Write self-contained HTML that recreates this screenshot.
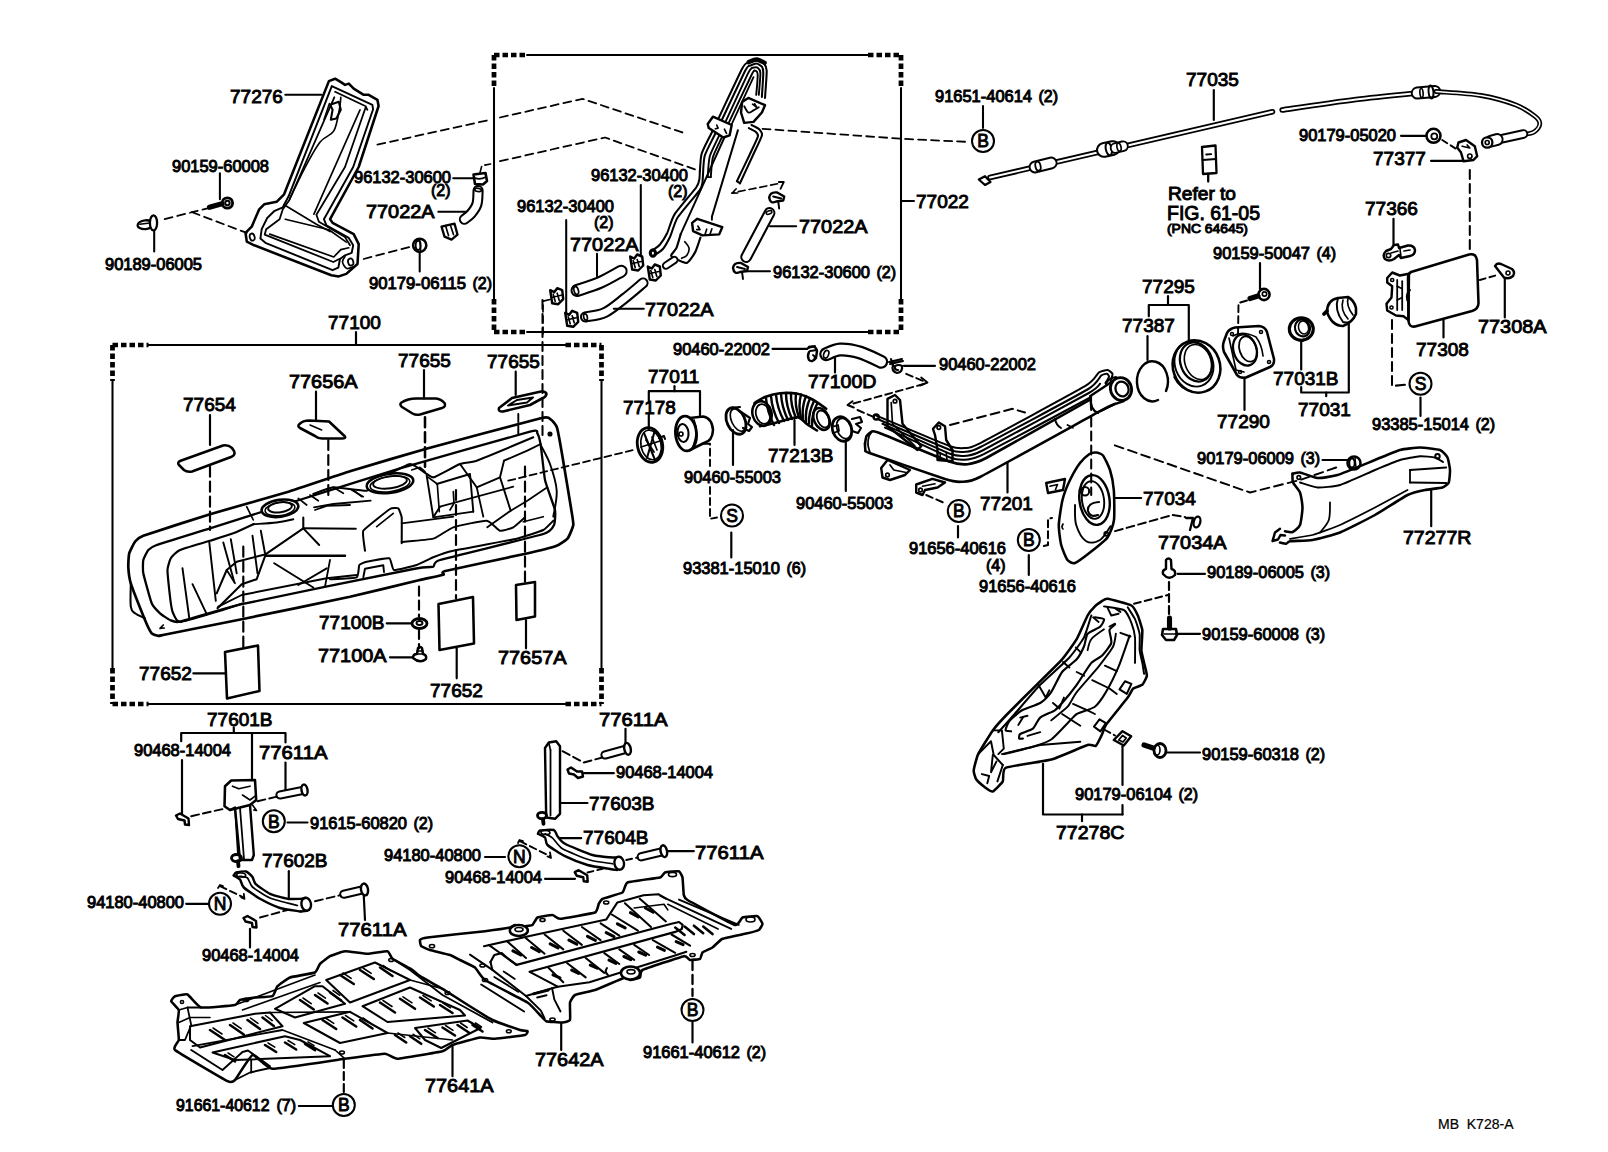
<!DOCTYPE html>
<html><head><meta charset="utf-8"><title>Fuel tank &amp; tube</title>
<style>
html,body{margin:0;padding:0;background:#fff;}
body{width:1608px;height:1152px;overflow:hidden;font-family:"Liberation Sans",sans-serif;}
svg{display:block}
svg text{font-family:"Liberation Sans",sans-serif;fill:#000;stroke:#000;}
svg path,svg circle,svg ellipse{stroke:#000;stroke-linecap:round;stroke-linejoin:round;}
svg path.tw{stroke:#fff;}
svg path.bx{stroke-linecap:butt;}
</style></head><body>
<svg width="1608" height="1152" viewBox="0 0 1608 1152">
<rect x="0" y="0" width="1608" height="1152" fill="#fff"/>
<path d="M328.9 81.1 L335.1 78.7 L341.3 82.4 L345 84.9 L348.8 83.6 L353.7 88.6 L363.7 94.8 L368.7 94.8 L377.4 99.8 L378.6 106 L358.7 167 L330.1 219.2 L332.6 222.9 L353.7 234.1 L358.7 244.1 L357.5 264 L346.3 273.9 L338.8 276.4 L331.3 275.2 L254.2 245.3 L246.8 241.6 L245.5 232.9 L251.7 226.7 L259.2 209.3 L264.2 204.3 L276.6 201.8 L284.1 194.3 Z" stroke-width="2.56" fill="none"/>
<path d="M331.8 86.1 L372.4 104.8 L373.1 109.3 L353.2 167 L323.9 219.2 L326.4 225.4 L348.8 237.9 L353.2 245.3 L351.7 252.8 L345 255.3 L340 259 L338.3 267.7 L332.6 270.2 L265.4 242.8 L260.4 238.6 L261.7 229.2 L267.2 218 L274.1 211.2 L282.8 207.3 L288.6 196.3 Z" stroke-width="1.92" fill="none"/>
<path d="M335.1 91.8 L365.7 106.3 L367.4 109.8" stroke-width="1.79" fill="none"/>
<path d="M334.3 97.3 L289.1 200.5 L282.8 209.3 L279.6 219.2 L266.2 229.2 L264.7 234.6 L333.3 262 L339.3 259" stroke-width="1.79" fill="none"/>
<path d="M365.7 107.3 L345 167 L316.4 214.7 L318.9 221.7 L345 237.1 L350 245.3" stroke-width="1.79" fill="none"/>
<path d="M360 109.8 L313.9 214.2" stroke-width="1.66" fill="none"/>
<path d="M285.3 219.2 L328.9 229.7 L346.3 242.1" stroke-width="1.66" fill="none"/>
<path d="M269.7 234.1 L333.8 257 L340.8 249.6 L348.8 247.8" stroke-width="1.66" fill="none"/>
<path d="M284.1 204.8 L316.4 224.2 L330.1 231.6" stroke-width="1.66" fill="none"/>
<path d="M340.8 97.3 C340.6 99.4 340.5 104.2 339.3 109.8 C338.1 115.4 337.0 125.5 333.8 130.9 C330.6 136.3 325.1 135.7 320.1 142.1 C315.1 148.5 309.1 160.0 304 169.5 C298.9 179.0 292.0 194.3 289.6 199.3" stroke-width="1.66" fill="none"/>
<path d="M330.1 104.8 L338.8 101.8 L340.8 109.8 L336.3 118.5 L330.8 119.7 L332.6 109.8 L330.1 104.8" stroke-width="2.05" fill="none"/>
<path d="M329.4 103.5 L323.9 119.7" stroke-width="1.54" fill="none"/>
<ellipse cx="252.2" cy="237.1" rx="2.4" ry="3.6" transform="rotate(-15 252.2 237.1)" stroke-width="1.79" fill="none"/>
<ellipse cx="350.7" cy="262.0" rx="2.6" ry="3.6" transform="rotate(-15 350.7 262.0)" stroke-width="1.79" fill="none"/>
<path d="M345 256.5 C344.6 257.4 342.2 260.0 342.5 262 C342.8 264.0 344.9 267.8 346.8 268.5 C348.8 269.2 353.0 266.8 354.2 266.5" stroke-width="1.66" fill="none"/>
<path d="M285.3 94.8 L321.4 94.8" stroke-width="2.05" fill="none"/>
<path d="M219.9 173.2 L219.9 199.3" stroke-width="2.05" fill="none"/>
<circle cx="227.4" cy="203.0" r="5.2" stroke-width="2.82" fill="none"/>
<circle cx="227.4" cy="203.0" r="2.2" stroke-width="2.05" fill="none"/>
<path d="M209.5 207.3 L221.9 203.8" stroke-width="5.12" fill="none"/>
<ellipse cx="145.5" cy="224.7" rx="8" ry="4.4" transform="rotate(-5 145.5 224.7)" stroke-width="2.30" fill="none"/>
<ellipse cx="153.5" cy="222.9" rx="3.6" ry="7.5" transform="rotate(0 153.5 222.9)" stroke-width="2.30" fill="#fff"/>
<path d="M139.8 224.2 L149.8 222.9" stroke-width="1.54" fill="none"/>
<path d="M154.2 231.6 L154.2 251.5" stroke-width="2.05" fill="none"/>
<path d="M164.7 219.2 L192 212.2 L209.5 207.8" stroke-width="1.79" fill="none" stroke-dasharray="8 5"/>
<path d="M192 212.2 L246.8 232.9" stroke-width="1.79" fill="none" stroke-dasharray="8 5"/>
<path d="M363.7 259 L410.9 246.6" stroke-width="1.79" fill="none" stroke-dasharray="8 5"/>
<circle cx="419.7" cy="245.3" r="6.6" stroke-width="2.56" fill="none"/>
<ellipse cx="418.2" cy="245.3" rx="2.5" ry="4.5" transform="rotate(0 418.2 245.3)" stroke-width="1.79" fill="none"/>
<path d="M419.7 240.3 L420.7 250.3" stroke-width="1.54" fill="none"/>
<path d="M419.7 252.8 L419.7 271.4" stroke-width="2.05" fill="none"/>
<path d="M453.2 178.2 L473.1 178.2" stroke-width="2.05" fill="none"/>
<path d="M473.5 174.5 L485.5 173 L487 181 L483 184.5 L475 184 Z" stroke-width="2.56" fill="none"/>
<path d="M475 178 Q480 180 486 177" stroke-width="1.66" fill="none"/>
<path d="M480.1 172.4 L481.8 165.7 L490.5 164" stroke-width="1.66" fill="none" stroke-dasharray="6 4"/>
<path class="tb" d="M478.1 190.6 C477.9 192.9 478.1 200.5 476.9 204.3 C475.7 208.2 473.2 211.2 471.1 213.7 C469.0 216.2 465.5 218.3 464.4 219.2" stroke-width="11.14" fill="none"/>
<path class="tw" d="M478.1 190.6 C477.9 192.9 478.1 200.5 476.9 204.3 C475.7 208.2 473.2 211.2 471.1 213.7 C469.0 216.2 465.5 218.3 464.4 219.2" stroke-width="7.04" fill="none"/>
<path d="M438.3 211.7 L465.7 211.7" stroke-width="2.05" fill="none"/>
<ellipse cx="478.1" cy="189.9" rx="3.4" ry="1.6" transform="rotate(10 478.1 189.9)" stroke-width="1.66" fill="none"/>
<path d="M441.5 226.6 L454.5 223.6 L457.5 234.6 L451.5 239.6 L444.5 236.6 Z" stroke-width="2.30" fill="none"/>
<path d="M445.5 225.6 L448.5 235.6 M450.5 225.6 L453.5 234.6" stroke-width="1.66" fill="none"/>
<path d="M377.4 144.6 L490.5 119.7" stroke-width="1.79" fill="none" stroke-dasharray="8 5"/>
<path d="M527 55 L868 55" stroke-width="2.05" fill="none"/>
<path d="M527 332 L868 332" stroke-width="2.05" fill="none"/>
<path d="M494 88 L494 299" stroke-width="2.05" fill="none"/>
<path d="M901 88 L901 299" stroke-width="2.05" fill="none"/>
<path class="bx" d="M494 55 L527 55" stroke-width="4.74" fill="none" stroke-dasharray="5.5 3"/>
<path class="bx" d="M868 55 L901 55" stroke-width="4.74" fill="none" stroke-dasharray="5.5 3"/>
<path class="bx" d="M494 332 L527 332" stroke-width="4.74" fill="none" stroke-dasharray="5.5 3"/>
<path class="bx" d="M868 332 L901 332" stroke-width="4.74" fill="none" stroke-dasharray="5.5 3"/>
<path class="bx" d="M494 55 L494 88" stroke-width="4.74" fill="none" stroke-dasharray="5.5 3"/>
<path class="bx" d="M494 299 L494 332" stroke-width="4.74" fill="none" stroke-dasharray="5.5 3"/>
<path class="bx" d="M901 55 L901 88" stroke-width="4.74" fill="none" stroke-dasharray="5.5 3"/>
<path class="bx" d="M901 299 L901 332" stroke-width="4.74" fill="none" stroke-dasharray="5.5 3"/>
<path d="M500 117.5 L582.5 98.8 L682.5 132.5" stroke-width="1.79" fill="none" stroke-dasharray="8 5"/>
<path d="M500 161.2 L605 137.5 L700 171.2" stroke-width="1.79" fill="none" stroke-dasharray="8 5"/>
<path d="M762.5 128.8 L902 138.8 L970 142" stroke-width="1.79" fill="none" stroke-dasharray="8 5"/>
<path d="M777.5 183.8 L733.8 192.5" stroke-width="1.66" fill="none" stroke-dasharray="7 4"/>
<path d="M732 193.2 L736.2 188.8" stroke-width="1.66" fill="none"/>
<path d="M732 193.2 L737.5 193" stroke-width="1.66" fill="none"/>
<path d="M778.8 182 L783.8 182 L780.5 188.8" stroke-width="1.79" fill="none"/>
<path d="M550 299.5 L543 301.2 L543 337.5" stroke-width="1.66" fill="none" stroke-dasharray="7 4"/>
<path d="M651.5 251 C652.3 250.4 658.2 246.6 659.8 244.8 C661.4 243.0 665.6 236.3 667.1 233.3 C668.6 230.3 671.5 219.2 674.4 214.6 C677.3 210.0 693.7 191.0 696.2 187.5 C698.7 184.0 698.9 182.5 699.4 179.2 C699.9 175.9 700.1 159.1 701.5 154.2 C702.9 149.3 708.8 138.7 712.9 130.2 C717.0 121.7 738.6 75.6 742.1 68.8 C745.6 62.0 746.8 63.4 748.3 62.5 C749.8 61.6 755.1 59.9 756.7 60 C758.3 60.1 763.0 62.4 764 63.5 C765.0 64.6 766.6 67.4 766.7 70.8 C766.8 74.2 765.2 95.2 765 97.9" stroke-width="2.05" fill="none"/>
<path d="M654.6 255.2 C655.4 254.6 661.3 250.9 662.9 249 C664.5 247.1 668.7 239.6 670.2 236.5 C671.7 233.4 674.6 222.3 677.5 217.7 C680.4 213.1 696.9 194.1 699.4 190.6 C701.9 187.1 702.0 185.7 702.5 182.3 C703.0 178.9 703.2 161.2 704.6 156.2 C706.0 151.2 711.9 140.8 716 132.3 C720.1 123.8 741.8 77.5 745.2 70.8 C748.6 64.1 749.2 66.3 750.4 65.6 C751.5 64.9 755.6 63.4 756.7 63.5 C757.9 63.6 761.2 65.8 761.9 66.7 C762.6 67.6 763.3 69.9 763.3 72.9 C763.3 75.9 762.0 94.5 761.9 96.9" stroke-width="2.05" fill="none"/>
<path d="M707.7 177.1 C707.9 175.0 708.5 160.6 709.8 156.2 C711.0 151.8 716.4 141.6 720.2 133.3 C724.1 125.0 745.0 79.5 748.3 72.9 C751.6 66.3 752.6 68.2 753.5 67.7 C754.4 67.2 757.0 67.2 757.7 67.7 C758.4 68.2 760.3 70.2 760.4 72.9 C760.5 75.6 759.0 92.6 758.8 94.8" stroke-width="1.92" fill="none"/>
<path d="M710.8 177.1 C711.0 175.1 711.6 161.6 712.9 157.3 C714.1 153.0 719.4 142.6 723.3 134.4 C727.2 126.2 748.3 81.4 751.5 75 C754.7 68.6 754.4 71.1 755 70.8 C755.6 70.5 756.8 71.4 757.1 71.9 C757.4 72.4 757.8 73.7 757.7 76 C757.6 78.3 756.4 92.9 756.2 94.8" stroke-width="1.92" fill="none"/>
<path d="M707.7 177.1 L710.8 177.1" stroke-width="1.92" fill="none"/>
<path d="M726.5 135.4 L753.5 77.1" stroke-width="1.79" fill="none"/>
<path d="M748.8 62.1 C750.1 61.6 754.1 59.3 756.7 59.4 C759.3 59.5 763.3 62.3 764.6 62.9" stroke-width="4.48" fill="none"/>
<ellipse cx="652.9" cy="253.1" rx="2.6" ry="3.2" transform="rotate(0 652.9 253.1)" stroke-width="3.07" fill="none"/>
<path d="M751.5 125 C752.3 125.4 758.2 128.2 759.2 129.2 C760.2 130.2 762.6 132.7 761.9 135.4 C761.2 138.1 754.7 151.4 752.5 156.2 C750.3 161.0 741.2 180.6 740 183.3" stroke-width="2.05" fill="none"/>
<path d="M748.8 128.1 C749.5 128.5 754.7 130.9 755.6 131.7 C756.5 132.5 758.5 134.2 757.9 136.5 C757.3 138.8 751.5 150.7 749.4 155.2 C747.3 159.7 738.1 178.6 736.9 181.2" stroke-width="2.05" fill="none"/>
<path d="M736.9 181.2 L740 183.3" stroke-width="2.05" fill="none"/>
<path d="M737.9 130.2 L711.9 216.7" stroke-width="2.05" fill="none"/>
<path d="M724.4 137.5 L680.6 234.4" stroke-width="1.92" fill="none"/>
<path d="M707.7 124 L712.9 116.7 L731.7 125 L729.6 135.4 L723.3 137.5 L708.8 128.1 Z" stroke-width="2.43" fill="#fff"/>
<path d="M716.7 125 L718.1 128.1 L715.4 128.8" stroke-width="1.66" fill="none"/>
<path d="M724.4 129.2 L726.5 133.3" stroke-width="1.66" fill="none"/>
<path d="M742.1 102.1 L748.3 97.9 L765 105.2 L761.9 112.5 L753.5 121.9 L744.2 122.9 L741 112.5 Z" stroke-width="2.43" fill="#fff"/>
<path d="M744.2 106.2 C744.9 107.2 746.8 111.8 748.3 112.5 C749.8 113.2 751.8 111.3 753.5 110.4 C755.2 109.5 757.9 107.8 758.8 107.3" stroke-width="1.79" fill="none"/>
<path d="M752.5 104.2 L756.7 107.3 L754.6 103.8" stroke-width="1.66" fill="none"/>
<path d="M692.1 222.9 L697.3 218.8 L722.3 227.1 L719.2 234.4 L702.5 235.4 L693.1 231.2 Z" stroke-width="2.43" fill="#fff"/>
<path d="M697.9 226 L700 229.6 L696.7 229.6" stroke-width="1.66" fill="none"/>
<path d="M706.7 229.2 L705 234.4" stroke-width="1.66" fill="none"/>
<path d="M711.9 228.8 L709.8 235" stroke-width="1.66" fill="none"/>
<path d="M711.9 216.7 L711.9 219.8" stroke-width="1.92" fill="none"/>
<path d="M680.6 234.4 C680.2 235.8 677.4 245.8 676.5 247.9 C675.6 250.0 671.4 254.2 671.2 255.2 C671.0 256.2 672.8 257.5 674.4 258.3 C676.0 259.1 684.8 263.5 686.9 262.9 C689.0 262.3 693.9 254.6 695.2 252.1 C696.6 249.6 699.9 239.0 700.4 237.5" stroke-width="2.18" fill="none"/>
<path d="M684.8 241.7 C685.5 242.7 688.6 245.7 689 247.9 C689.4 250.2 688.1 253.5 686.9 255.2 C685.7 256.9 682.6 257.8 681.7 258.3" stroke-width="1.66" fill="none"/>
<path class="tb" d="M666 265.6 L674.4 260" stroke-width="8.32" fill="none"/>
<path class="tw" d="M666 265.6 L674.4 260" stroke-width="4.48" fill="none"/>
<path class="tb" d="M577 290.5 C580.8 289.2 592.6 285.7 600 282.5 C607.4 279.3 617.7 273.1 621.2 271.2" stroke-width="13.06" fill="none"/>
<path class="tw" d="M577 290.5 C580.8 289.2 592.6 285.7 600 282.5 C607.4 279.3 617.7 273.1 621.2 271.2" stroke-width="8.96" fill="none"/>
<ellipse cx="576.2" cy="290.5" rx="2.2" ry="4" transform="rotate(-15 576.2 290.5)" stroke-width="1.66" fill="none"/>
<path class="tb" d="M585.5 317 C588.8 316.2 598.4 315.7 605 312.5 C611.6 309.3 618.7 302.9 625 298 C631.3 293.1 640.0 285.5 643 283" stroke-width="11.14" fill="none"/>
<path class="tw" d="M585.5 317 C588.8 316.2 598.4 315.7 605 312.5 C611.6 309.3 618.7 302.9 625 298 C631.3 293.1 640.0 285.5 643 283" stroke-width="7.04" fill="none"/>
<ellipse cx="585.5" cy="317.0" rx="1.8" ry="3.2" transform="rotate(-15 585.5 317.0)" stroke-width="1.66" fill="none"/>
<path class="tb" d="M769.5 213 L746.2 257" stroke-width="11.78" fill="none"/>
<path class="tw" d="M769.5 213 L746.2 257" stroke-width="7.68" fill="none"/>
<ellipse cx="769.0" cy="212.5" rx="3" ry="1.6" transform="rotate(-20 769.0 212.5)" stroke-width="1.54" fill="none"/>
<path d="M630.2 256.5 L634.2 258.5 L637.2 254.5 L642.2 256.5 L643.2 265.5 L638.2 270.5 L632.2 269.5 Z" stroke-width="2.43" fill="none"/>
<path d="M633.2 260.5 L635.2 267.5 M637.2 259.5 L639.2 266.5 M632.2 263.5 L641.2 261.5" stroke-width="1.66" fill="none"/>
<path d="M647.8 266.5 L651.8 268.5 L654.8 264.5 L659.8 266.5 L660.8 275.5 L655.8 280.5 L649.8 279.5 Z" stroke-width="2.43" fill="none"/>
<path d="M650.8 270.5 L652.8 277.5 M654.8 269.5 L656.8 276.5 M649.8 273.5 L658.8 271.5" stroke-width="1.66" fill="none"/>
<path d="M550.2 290.2 L554.2 292.2 L557.2 288.2 L562.2 290.2 L563.2 299.2 L558.2 304.2 L552.2 303.2 Z" stroke-width="2.43" fill="none"/>
<path d="M553.2 294.2 L555.2 301.2 M557.2 293.2 L559.2 300.2 M552.2 297.2 L561.2 295.2" stroke-width="1.66" fill="none"/>
<path d="M565.2 312.8 L569.2 314.8 L572.2 310.8 L577.2 312.8 L578.2 321.8 L573.2 326.8 L567.2 325.8 Z" stroke-width="2.43" fill="none"/>
<path d="M568.2 316.8 L570.2 323.8 M572.2 315.8 L574.2 322.8 M567.2 319.8 L576.2 317.8" stroke-width="1.66" fill="none"/>
<path d="M769.2 197.5 Q770.2 191.5 777.2 192.5 L784.2 196.5 L783.2 200.5 L776.2 201.5 Q770.2 204.5 769.2 197.5 Z" stroke-width="2.43" fill="none"/>
<path d="M778.2 201.5 L779.2 208.5 M773.2 196.5 L781.2 198.5" stroke-width="1.92" fill="none"/>
<path d="M733.0 268.0 Q734.0 262.0 741.0 263.0 L748.0 267.0 L747.0 271.0 L740.0 272.0 Q734.0 275.0 733.0 268.0 Z" stroke-width="2.43" fill="none"/>
<path d="M742.0 272.0 L743.0 279.0 M737.0 267.0 L745.0 269.0" stroke-width="1.92" fill="none"/>
<path d="M640.8 185 L640.8 256.2" stroke-width="2.05" fill="none"/>
<path d="M566.2 220 L566.2 312.5" stroke-width="2.05" fill="none"/>
<path d="M597 253.8 L597 276.2" stroke-width="2.05" fill="none"/>
<path d="M613.8 308.8 L643.8 308.8" stroke-width="2.05" fill="none"/>
<path d="M770 226.2 L796.2 226.2" stroke-width="2.05" fill="none"/>
<path d="M746.2 271.2 L770 271.2" stroke-width="2.05" fill="none"/>
<path d="M901 201 L914 201" stroke-width="2.05" fill="none"/>
<path d="M983 106 L983 128" stroke-width="2.05" fill="none"/>
<circle cx="983" cy="141" r="11" stroke-width="2.05" fill="#fff"/>
<text x="983" y="147.3" font-size="17.5" text-anchor="middle" stroke-width="0.9">B</text>
<path class="tb" d="M990 177.5 L1272.5 111.8" stroke-width="5.63" fill="none"/>
<path class="tw" d="M990 177.5 L1272.5 111.8" stroke-width="2.05" fill="none"/>
<path d="M978.8 179.5 L985 176.2 L990.5 182 L985 185 Z" stroke-width="2.30" fill="#fff"/>
<path class="tb" d="M1035 167 L1051.2 163" stroke-width="12.80" fill="none"/>
<path class="tw" d="M1035 167 L1051.2 163" stroke-width="8.96" fill="none"/>
<ellipse cx="1038.0" cy="166.2" rx="2.6" ry="4.6" transform="rotate(-12 1038.0 166.2)" stroke-width="1.79" fill="none"/>
<path class="tb" d="M1103.8 150 L1113 148" stroke-width="15.62" fill="none"/>
<path class="tw" d="M1103.8 150 L1113 148" stroke-width="11.52" fill="none"/>
<ellipse cx="1108.8" cy="149.0" rx="3" ry="6.5" transform="rotate(-12 1108.8 149.0)" stroke-width="2.05" fill="none"/>
<path class="tb" d="M1115.5 148 L1123 146.2" stroke-width="11.52" fill="none"/>
<path class="tw" d="M1115.5 148 L1123 146.2" stroke-width="7.68" fill="none"/>
<ellipse cx="1119.0" cy="147.2" rx="2" ry="4" transform="rotate(-12 1119.0 147.2)" stroke-width="1.66" fill="none"/>
<path d="M1213.8 90 L1213.8 120" stroke-width="2.18" fill="none"/>
<path d="M1202 147 L1215.5 145.5 L1216.5 173 L1203 174 Z" stroke-width="2.30" fill="none"/>
<path d="M1202.5 160 L1216 159" stroke-width="1.79" fill="none"/>
<path d="M1206.2 154.5 L1211.2 154.2" stroke-width="1.79" fill="none"/>
<path d="M1208.2 174 L1208.2 181.5" stroke-width="2.30" fill="none"/>
<path class="tb" d="M1282.2 110 C1294.5 108.2 1333.3 102.3 1356 99.5 C1378.7 96.7 1408.1 94.1 1418.5 93" stroke-width="5.63" fill="none"/>
<path class="tw" d="M1282.2 110 C1294.5 108.2 1333.3 102.3 1356 99.5 C1378.7 96.7 1408.1 94.1 1418.5 93" stroke-width="2.05" fill="none"/>
<path class="tb" d="M1417.2 93 L1434.8 91.5" stroke-width="12.80" fill="none"/>
<path class="tw" d="M1417.2 93 L1434.8 91.5" stroke-width="8.96" fill="none"/>
<ellipse cx="1431.0" cy="92.0" rx="2.4" ry="6.5" transform="rotate(-5 1431.0 92.0)" stroke-width="1.92" fill="none"/>
<ellipse cx="1421.5" cy="93.0" rx="1.6" ry="4.5" transform="rotate(-5 1421.5 93.0)" stroke-width="1.66" fill="none"/>
<path class="tb" d="M1436 91.5 C1443.5 92.2 1467.7 93.2 1481 95.5 C1494.3 97.8 1507.0 101.5 1516 105 C1525.0 108.5 1530.8 113.1 1534.8 116.2 C1538.8 119.3 1539.9 121.2 1539.8 123.8 C1539.7 126.4 1536.8 130.2 1534 132 C1531.2 133.8 1524.8 134.1 1523 134.5" stroke-width="4.86" fill="none"/>
<path class="tw" d="M1436 91.5 C1443.5 92.2 1467.7 93.2 1481 95.5 C1494.3 97.8 1507.0 101.5 1516 105 C1525.0 108.5 1530.8 113.1 1534.8 116.2 C1538.8 119.3 1539.9 121.2 1539.8 123.8 C1539.7 126.4 1536.8 130.2 1534 132 C1531.2 133.8 1524.8 134.1 1523 134.5" stroke-width="1.54" fill="none"/>
<path class="tb" d="M1523.5 134 L1498.5 139.5" stroke-width="9.60" fill="none"/>
<path class="tw" d="M1523.5 134 L1498.5 139.5" stroke-width="5.76" fill="none"/>
<path class="tb" d="M1497.2 139.5 L1491 141.2" stroke-width="12.80" fill="none"/>
<path class="tw" d="M1497.2 139.5 L1491 141.2" stroke-width="8.96" fill="none"/>
<circle cx="1487.2" cy="142.5" r="5.2" stroke-width="2.30" fill="#fff"/>
<circle cx="1487.2" cy="142.5" r="2" stroke-width="1.66" fill="none"/>
<circle cx="1433.5" cy="135.8" r="7" stroke-width="2.56" fill="none"/>
<circle cx="1434.3" cy="136.3" r="3" stroke-width="1.79" fill="none"/>
<path d="M1401 135.8 L1426 135.8" stroke-width="2.18" fill="none"/>
<path d="M1442.2 140 L1456 148.8" stroke-width="1.92" fill="none" stroke-dasharray="6 4"/>
<path d="M1458.5 142.5 L1466 140 L1474.8 146.2 L1477.2 156.2 L1473.5 160 L1463.5 161.2 L1461 152.5 L1457.2 147.5 Z" stroke-width="2.43" fill="none"/>
<path d="M1462.2 146.2 L1469.8 148 L1467.2 145" stroke-width="1.66" fill="none"/>
<circle cx="1469.8" cy="156.2" r="2.2" stroke-width="1.66" fill="none"/>
<path d="M1431 160.8 L1463.5 160.8" stroke-width="2.18" fill="none"/>
<path d="M1469.8 170 L1469.8 253.8" stroke-width="2.05" fill="none" stroke-dasharray="9 5"/>
<path d="M1393.5 218.8 L1393.5 245" stroke-width="2.18" fill="none"/>
<path d="M1386 251 L1391 249 L1394 245 L1398 244.5 L1399 248 L1408 245.5 Q1414 245 1415 250 Q1415 255 1410 256 L1401 258 L1399 255 L1394 259 Q1389 262 1385 259 Q1382 255 1386 251 Z" stroke-width="2.43" fill="none"/>
<circle cx="1388.5" cy="255.5" r="2.2" stroke-width="1.66" fill="none"/>
<path d="M1391 253 L1398 251" stroke-width="1.66" fill="none"/>
<path d="M1400 249 L1401 257" stroke-width="1.66" fill="none"/>
<path d="M1404 251 L1410 250" stroke-width="1.66" fill="none"/>
<path d="M1411 272 L1469 254.5 Q1476 253 1477 260 L1478.5 303 Q1478.5 309 1472 311 L1415 326.5 Q1409 327.5 1408.5 321 L1408 278 Q1408 273.5 1411 272 Z" stroke-width="2.56" fill="none"/>
<path d="M1387.2 278 L1392.2 272.5 L1399.8 275.5 L1409 273.8 L1408.5 320 L1403.5 316.2 L1396 315.5 L1387.2 310.5 L1386.5 303.8 L1391.5 297.5 L1392.2 286.2 L1387.2 282.5 Z" stroke-width="2.43" fill="none"/>
<path d="M1397.2 280 L1397.2 310" stroke-width="1.79" fill="none"/>
<path d="M1402.2 281.2 L1402.2 310" stroke-width="1.79" fill="none"/>
<path d="M1397.2 286.2 L1402.2 288.8" stroke-width="1.66" fill="none"/>
<path d="M1397.2 300 L1402.2 297.5" stroke-width="1.66" fill="none"/>
<circle cx="1392.2" cy="280.0" r="1.6" stroke-width="1.54" fill="none"/>
<circle cx="1391.5" cy="307.5" r="1.6" stroke-width="1.54" fill="none"/>
<path d="M1410 290 Q1404 296 1409 304" stroke-width="1.92" fill="none"/>
<path d="M1443.5 320 L1443.5 337.5" stroke-width="2.18" fill="none"/>
<path d="M1495 266 Q1497 262.5 1501 264 L1512 269 Q1515.5 272 1513 276 Q1509 279.5 1504 277.5 Z" stroke-width="2.43" fill="none"/>
<circle cx="1508" cy="273" r="2" stroke-width="1.54" fill="none"/>
<path d="M1504.8 278.8 L1504.8 317.5" stroke-width="2.18" fill="none"/>
<path d="M1479.8 280 L1497.2 275" stroke-width="1.92" fill="none" stroke-dasharray="6 4"/>
<path d="M1392 320 L1392 386 L1408 384.5" stroke-width="2.05" fill="none" stroke-dasharray="9 5"/>
<circle cx="1420.5" cy="383.8" r="11" stroke-width="2.05" fill="#fff"/>
<text x="1420.5" y="390.1" font-size="17.5" text-anchor="middle" stroke-width="0.9">S</text>
<path d="M1420.5 397.5 L1420.5 416" stroke-width="2.18" fill="none"/>
<path d="M1168 296.2 L1168 304.5" stroke-width="2.18" fill="none"/>
<path d="M1148.8 316.2 L1148.8 305 L1188.8 305 L1188.8 340" stroke-width="2.18" fill="none"/>
<path d="M1147.5 336.2 L1147.5 360" stroke-width="2.18" fill="none"/>
<path d="M1158 400 A15.5 20 0 1 1 1166 391" stroke-width="2.43" fill="none"/>
<ellipse cx="1196.5" cy="366.5" rx="23.5" ry="26.5" transform="rotate(-20 1196.5 366.5)" stroke-width="2.56" fill="none"/>
<ellipse cx="1194" cy="364" rx="19" ry="23" transform="rotate(-20 1194 364)" stroke-width="1.92" fill="none"/>
<ellipse cx="1196" cy="362" rx="15.5" ry="20" transform="rotate(-20 1196 362)" stroke-width="2.30" fill="none"/>
<ellipse cx="1198" cy="362" rx="13" ry="18" transform="rotate(-20 1198 362)" stroke-width="1.66" fill="none"/>
<path d="M1174 377 Q1180 390 1194 392" stroke-width="1.66" fill="none"/>
<path d="M1227 333 Q1229 329 1235 327.5 L1259 326 Q1265 326.5 1267 332 L1274 359 Q1274.5 365 1270 367 L1246 377.5 Q1240 378.5 1237 375 L1224 352 Q1222 346 1224 341 Z" stroke-width="2.56" fill="none"/>
<ellipse cx="1245" cy="350" rx="11.5" ry="16" transform="rotate(-18 1245 350)" stroke-width="2.30" fill="none"/>
<ellipse cx="1248" cy="349" rx="8.5" ry="13" transform="rotate(-18 1248 349)" stroke-width="1.79" fill="none"/>
<path d="M1233 336 Q1242 330 1256 337 Q1262 345 1263 356" stroke-width="1.66" fill="none"/>
<path d="M1229 338 L1236 370 L1244 372" stroke-width="1.66" fill="none"/>
<circle cx="1232" cy="334" r="1.5" stroke-width="1.54" fill="none"/>
<circle cx="1261" cy="332" r="1.5" stroke-width="1.54" fill="none"/>
<circle cx="1269" cy="362" r="1.5" stroke-width="1.54" fill="none"/>
<circle cx="1240" cy="372" r="1.5" stroke-width="1.54" fill="none"/>
<path d="M1244.5 377.5 L1244.5 410" stroke-width="2.18" fill="none"/>
<path d="M1260 263 L1260 289" stroke-width="2.18" fill="none"/>
<circle cx="1264" cy="294.5" r="5.6" stroke-width="2.56" fill="none"/>
<circle cx="1264.5" cy="294" r="2.2" stroke-width="1.66" fill="none"/>
<path d="M1250 298.5 L1258 296" stroke-width="5.12" fill="none"/>
<path d="M1247 300.5 L1238.5 303 L1238 336" stroke-width="1.92" fill="none" stroke-dasharray="7 4"/>
<ellipse cx="1301.3" cy="329" rx="12" ry="11.3" transform="rotate(0 1301.3 329)" stroke-width="3.07" fill="none"/>
<ellipse cx="1302.5" cy="328" rx="7.5" ry="8.5" transform="rotate(-15 1302.5 328)" stroke-width="2.18" fill="none"/>
<ellipse cx="1303.5" cy="327.5" rx="5" ry="6.5" transform="rotate(-15 1303.5 327.5)" stroke-width="1.54" fill="none"/>
<path d="M1290 332 Q1294 341 1303 341" stroke-width="1.79" fill="none"/>
<path d="M1301.2 341.2 L1301.2 369.5" stroke-width="2.18" fill="none"/>
<path d="M1301.2 387 L1301.2 392.5 L1348.8 392.5 L1348.8 322.5" stroke-width="2.18" fill="none"/>
<path d="M1326.2 392.5 L1326.2 396.2" stroke-width="2.18" fill="none"/>
<path d="M1327 312 Q1327 300 1338 298 L1348 297 Q1354 300 1356 308 L1356 314 Q1352 323 1343 326 Q1332 326 1327 312 Z" stroke-width="2.56" fill="none"/>
<path d="M1338 298 Q1334 310 1343 322 Q1349 324 1354 318" stroke-width="1.92" fill="none"/>
<path d="M1343 300 Q1340 310 1348 319" stroke-width="1.66" fill="none"/>
<path d="M1348 298 Q1346 306 1353 315" stroke-width="1.66" fill="none"/>
<path d="M1324 314 L1327 311" stroke-width="3.84" fill="none"/>
<path d="M772.5 348.8 L807.5 348.8" stroke-width="2.18" fill="none"/>
<path d="M809 347 Q816 345 817 351 L816 358 Q812 363 809 360 Q807 356 809 352" stroke-width="2.43" fill="none"/>
<path d="M810 351 L817 350 M808 348 L815 346 M813 355 Q816 357 814 360" stroke-width="1.92" fill="none"/>
<path class="tb" d="M826.2 354.2 C828.5 353.4 834.4 349.8 840 349.5 C845.6 349.2 853.1 350.4 860 352.5 C866.9 354.6 877.7 360.2 881.2 361.8" stroke-width="13.95" fill="none"/>
<path class="tw" d="M826.2 354.2 C828.5 353.4 834.4 349.8 840 349.5 C845.6 349.2 853.1 350.4 860 352.5 C866.9 354.6 877.7 360.2 881.2 361.8" stroke-width="9.60" fill="none"/>
<ellipse cx="826.2" cy="354.2" rx="2.4" ry="4" transform="rotate(20 826.2 354.2)" stroke-width="1.66" fill="none"/>
<path d="M835 358 L835 372.5" stroke-width="2.18" fill="none"/>
<path d="M889 362 L902 359 M890 364 L903 361 M891 359 L893 366" stroke-width="2.05" fill="none"/>
<path d="M893 365 Q891 371 897 373 Q903 372 902 366 Q899 364 895 366 Q894 370 898 370" stroke-width="2.18" fill="none"/>
<path d="M903.8 365.8 L935 365.8" stroke-width="2.18" fill="none"/>
<path d="M906.2 373.8 L925 381.8" stroke-width="1.92" fill="none" stroke-dasharray="7 4"/>
<path d="M921.2 377.5 L927.5 382.5 L920 385.5" stroke-width="1.92" fill="none"/>
<path d="M923.8 384 L850 404.5" stroke-width="1.92" fill="none" stroke-dasharray="7 4"/>
<path d="M852.5 401.2 L847.5 405 L853.8 407.5" stroke-width="1.92" fill="none"/>
<path d="M857.5 410 L875 417.5" stroke-width="1.92" fill="none" stroke-dasharray="7 4"/>
<path d="M674.5 386.2 L674.5 391.2" stroke-width="2.18" fill="none"/>
<path d="M648.8 400.5 L648.8 391.2 L700 391.2 L700 418.8" stroke-width="2.18" fill="none"/>
<path d="M648.8 413.8 L648.8 430" stroke-width="2.18" fill="none"/>
<ellipse cx="650" cy="445" rx="12.5" ry="17.5" transform="rotate(-12 650 445)" stroke-width="2.82" fill="none"/>
<ellipse cx="651" cy="445" rx="10" ry="15" transform="rotate(-12 651 445)" stroke-width="1.54" fill="none"/>
<path d="M644 433 L655 460" stroke-width="2.05" fill="none"/>
<path d="M655 430 L647 458" stroke-width="2.05" fill="none"/>
<path d="M641 447 L660 441" stroke-width="1.79" fill="none"/>
<path d="M646 440 L654 452" stroke-width="1.79" fill="none"/>
<path d="M652 437 L657 450" stroke-width="1.66" fill="none"/>
<path d="M659 438 L664 436 L665 439" stroke-width="2.05" fill="none"/>
<path d="M690 418 L703 416.5 Q712 418 713 430 Q712.5 441 704 443 L692 449 Z" stroke-width="2.56" fill="#fff"/>
<ellipse cx="686" cy="433.5" rx="10.5" ry="17.5" transform="rotate(-5 686 433.5)" stroke-width="2.82" fill="#fff"/>
<ellipse cx="683" cy="433" rx="5.5" ry="9" transform="rotate(-5 683 433)" stroke-width="2.05" fill="none"/>
<circle cx="681" cy="434" r="2" stroke-width="1.66" fill="none"/>
<path d="M694 420 Q699 432 693 447" stroke-width="1.79" fill="none"/>
<path d="M704 443.8 L710 443.8 L710 466" stroke-width="1.92" fill="none" stroke-dasharray="7 4"/>
<path d="M710 487 L710 518.8 L717 517.5" stroke-width="1.92" fill="none" stroke-dasharray="7 4"/>
<circle cx="732" cy="515.5" r="11" stroke-width="2.05" fill="#fff"/>
<text x="732" y="521.8" font-size="17.5" text-anchor="middle" stroke-width="0.9">S</text>
<path d="M731.3 532.5 L731.3 557.5" stroke-width="2.18" fill="none"/>
<ellipse cx="736" cy="421" rx="9" ry="14" transform="rotate(-25 736 421)" stroke-width="2.82" fill="none"/>
<ellipse cx="738" cy="420" rx="6.5" ry="12" transform="rotate(-25 738 420)" stroke-width="1.66" fill="none"/>
<path d="M741 412 L750 418 L748 424 L752 427 L749 431 L743 428" stroke-width="2.18" fill="none"/>
<path d="M733 430 L733 465" stroke-width="2.18" fill="none"/>
<path d="M727 412 L730 408 L740 407" stroke-width="2.05" fill="none"/>
<path d="M754.5 403 C756.2 402.0 760.8 398.6 765 397 C769.2 395.4 774.6 393.7 780 393.2 C785.4 392.7 792.1 392.8 797.5 393.8 C802.9 394.9 807.7 397.0 812.5 399.5 C817.3 402.0 823.9 407.2 826.2 408.8" stroke-width="2.56" fill="none"/>
<path d="M760 426.2 C762.5 425.7 770.0 424.2 775 423 C780.0 421.8 786.0 419.7 790 418.8 C794.0 417.9 795.9 416.6 798.8 417.5 C801.7 418.4 804.5 422.3 807.5 424.5 C810.5 426.7 815.4 429.5 817 430.5" stroke-width="2.56" fill="none"/>
<ellipse cx="762" cy="413.5" rx="9.5" ry="12.5" transform="rotate(-15 762 413.5)" stroke-width="2.56" fill="#fff"/>
<ellipse cx="763" cy="414" rx="7" ry="10" transform="rotate(-15 763 414)" stroke-width="1.79" fill="none"/>
<ellipse cx="821.5" cy="419" rx="7.5" ry="11.5" transform="rotate(-25 821.5 419)" stroke-width="2.56" fill="#fff"/>
<ellipse cx="823" cy="419" rx="5.5" ry="9" transform="rotate(-25 823 419)" stroke-width="1.79" fill="none"/>
<path d="M766 398 Q767.0 411.5 774 425" stroke-width="2.43" fill="none"/>
<path d="M771 396 Q772.0 409.5 779 423" stroke-width="2.43" fill="none"/>
<path d="M776 394.5 Q777.0 407.75 784 421" stroke-width="2.43" fill="none"/>
<path d="M781 393.5 Q781.5 406.75 788 420" stroke-width="2.43" fill="none"/>
<path d="M786 393 Q786.0 406.0 792 419" stroke-width="2.43" fill="none"/>
<path d="M791 393 Q790.5 405.5 796 418" stroke-width="2.43" fill="none"/>
<path d="M796 393.5 Q794.5 405.5 799 417.5" stroke-width="2.43" fill="none"/>
<path d="M801 394.5 Q798.0 406.25 801 418" stroke-width="2.43" fill="none"/>
<path d="M806 396 Q801.5 407.5 803 419" stroke-width="2.43" fill="none"/>
<path d="M810 398.5 Q805.0 409.75 806 421" stroke-width="2.43" fill="none"/>
<path d="M814 401 Q808.5 412.25 809 423.5" stroke-width="2.43" fill="none"/>
<path d="M817 404 Q811.5 415.0 812 426" stroke-width="2.43" fill="none"/>
<path d="M794.5 420 L794.5 445" stroke-width="2.18" fill="none"/>
<ellipse cx="842" cy="429" rx="9.5" ry="12.5" transform="rotate(-20 842 429)" stroke-width="2.82" fill="none"/>
<ellipse cx="844" cy="428.5" rx="7" ry="10.5" transform="rotate(-20 844 428.5)" stroke-width="1.66" fill="none"/>
<path d="M832 427 L838 425 L839 431 L833 433 Z" stroke-width="1.79" fill="none"/>
<path d="M852 419 L860 417 L862 422 L856 424 L861 428 L858 433 L852 431" stroke-width="2.18" fill="none"/>
<path d="M845.8 440 L845.8 491" stroke-width="2.18" fill="none"/>
<path d="M875 415 C881.2 417.6 942.5 443.4 950 446.2 C957.5 448.9 962.6 448.2 965 448 C967.4 447.8 968.8 448.9 978.8 443.8 C988.8 438.7 1075.0 392.1 1085 386.2 C1095.0 380.3 1096.9 373.9 1098.8 372.5 C1100.7 371.1 1106.4 369.9 1107.5 370 C1108.6 370.1 1112.2 372.9 1112.5 373.8 C1112.8 374.7 1110.7 380.6 1110.5 381.2" stroke-width="2.05" fill="none"/>
<path d="M877 418.8 C883.1 421.4 942.6 447.2 950 450 C957.4 452.8 963.0 452.1 965.5 451.8 C968.0 451.6 970.3 452.2 980.5 447 C990.7 441.8 1077.4 395.5 1087.5 389.5 C1097.6 383.5 1099.6 376.8 1101.2 375.5 C1102.8 374.2 1106.3 373.7 1107 373.8 C1107.7 373.9 1109.1 376.0 1109 376.8 C1108.9 377.6 1105.8 382.5 1105.5 383" stroke-width="2.05" fill="none"/>
<path d="M882.5 423.8 C888.1 426.3 943.0 451.1 950 453.8 C957.0 456.5 963.5 456.1 966.2 455.8 C968.9 455.5 972.3 455.7 982.5 450.5 C992.7 445.3 1079.0 398.6 1088.8 393 C1098.6 387.4 1099.1 384.6 1100 383.8" stroke-width="2.05" fill="none"/>
<path d="M885 427.5 C890.4 430.0 943.2 454.8 950 457.5 C956.8 460.2 964.2 459.8 967 459.5 C969.8 459.2 973.4 459.4 983.8 454.2 C994.1 449.0 1082.2 401.8 1091.2 397" stroke-width="2.05" fill="none"/>
<circle cx="876.2" cy="417.0" r="2.6" stroke-width="2.30" fill="none"/>
<path d="M865 443.8 C865.1 443.2 865.9 437.2 866.5 436.2 C867.1 435.2 870.9 431.8 872 431.5 C873.1 431.2 873.0 430.5 879.5 433 C886.0 435.5 942.7 459.2 950 461.8 C957.3 464.4 964.5 464.5 967.5 464.2 C970.5 463.9 976.0 463.4 986.2 458 C996.5 452.6 1081.8 404.4 1090.5 399.5" stroke-width="2.56" fill="none"/>
<path d="M865 443.8 C865.0 444.3 865.1 449.2 865.5 450 C865.9 450.8 862.9 450.6 869.5 453 C876.1 455.4 937.4 476.6 945 479 C952.6 481.4 958.3 482.0 961.2 481.8 C964.1 481.6 968.4 482.9 980 477 C991.6 471.1 1088.8 417.3 1100 411.2 C1111.2 405.1 1113.8 404.4 1115 403.8" stroke-width="2.56" fill="none"/>
<path d="M872 431.5 C871.5 432.3 869.7 433.9 869 436.2 C868.3 438.4 867.8 442.3 868 445 C868.2 447.7 869.7 451.2 870 452.5" stroke-width="1.79" fill="none"/>
<path d="M1091 398 Q1090 410 1098 413" stroke-width="2.18" fill="none"/>
<path d="M1090.5 399.5 L1091.2 410" stroke-width="2.05" fill="none"/>
<path d="M1090 396.2 L1110 383" stroke-width="2.30" fill="none"/>
<ellipse cx="1121" cy="389" rx="10.5" ry="11.5" transform="rotate(-20 1121 389)" stroke-width="2.82" fill="none"/>
<ellipse cx="1122" cy="389" rx="6.5" ry="7.5" transform="rotate(-20 1122 389)" stroke-width="2.30" fill="none"/>
<path d="M1106 384 Q1108 378 1116 377" stroke-width="1.92" fill="none"/>
<path d="M1100 411.2 L1115.5 403.8 L1123.8 401.2" stroke-width="2.30" fill="none"/>
<path d="M1055 419 Q1056 425 1061 428" stroke-width="1.92" fill="none"/>
<path d="M887.5 398.8 L895 395 L900 400 L902.5 423.8 L921.2 446.2 L917.5 450 L887.5 426.2 Z" stroke-width="2.43" fill="none"/>
<circle cx="895.0" cy="401.2" r="1.8" stroke-width="1.66" fill="none"/>
<path d="M891.2 402.5 L892.5 423.8 L915 446.2" stroke-width="1.66" fill="none"/>
<path d="M933 428.8 L938.8 422.5 L945 426.2 L946.2 440 L952.5 450 L952.5 461.2 L937.5 460 L937.5 450 L935 435 Z" stroke-width="2.43" fill="none"/>
<circle cx="938.8" cy="427.5" r="1.8" stroke-width="1.66" fill="none"/>
<path d="M940 452.5 L940.5 459.5" stroke-width="1.66" fill="none"/>
<path d="M946.2 452.5 L947 460" stroke-width="1.66" fill="none"/>
<path d="M881.2 468 L887.5 460 L910 470 L905 475 L890 480 L882.5 477.5 Z" stroke-width="2.43" fill="none"/>
<circle cx="887.5" cy="475.0" r="1.8" stroke-width="1.66" fill="none"/>
<path d="M890 465 L893.8 470 L906.2 472.5" stroke-width="1.66" fill="none"/>
<path d="M916.2 484.5 L932.5 478.8 L945 482.5 L937.5 487.5 L925 490 L922.5 495 L916.2 492.5 Z" stroke-width="2.43" fill="none"/>
<circle cx="920.5" cy="490.0" r="1.8" stroke-width="1.66" fill="none"/>
<path d="M922.5 486.2 L935 483.8" stroke-width="1.66" fill="none"/>
<path d="M950 425 L1012.5 408.8 L1025 412.5" stroke-width="1.92" fill="none" stroke-dasharray="9 5"/>
<path d="M926.2 495 L946.2 503.8" stroke-width="1.92" fill="none" stroke-dasharray="7 4"/>
<path d="M1067.5 425 L1076.2 429.5" stroke-width="1.79" fill="none" stroke-dasharray="6 4"/>
<path d="M1091.2 417.5 L1091.2 495" stroke-width="2.05" fill="none" stroke-dasharray="9 5"/>
<path d="M1007.5 462.5 L1007.5 492.5" stroke-width="2.18" fill="none"/>
<circle cx="958.8" cy="511" r="11" stroke-width="2.05" fill="#fff"/>
<text x="958.8" y="517.3" font-size="17.5" text-anchor="middle" stroke-width="0.9">B</text>
<path d="M958 526 L958 537.5" stroke-width="2.18" fill="none"/>
<circle cx="1028.8" cy="540" r="11" stroke-width="2.05" fill="#fff"/>
<text x="1028.8" y="546.3" font-size="17.5" text-anchor="middle" stroke-width="0.9">B</text>
<path d="M1028.8 555 L1028.8 575" stroke-width="2.18" fill="none"/>
<path d="M1043.8 546 L1048 545 L1048 518.8 L1052 518" stroke-width="2.05" fill="none" stroke-dasharray="7 4"/>
<path d="M148.5 345 L565.5 345" stroke-width="2.05" fill="none"/>
<path d="M148.5 704 L565.5 704" stroke-width="2.05" fill="none"/>
<path d="M112.5 381 L112.5 668" stroke-width="2.05" fill="none"/>
<path d="M601.5 381 L601.5 668" stroke-width="2.05" fill="none"/>
<path class="bx" d="M112.5 345 L148.5 345" stroke-width="4.74" fill="none" stroke-dasharray="5.5 3"/>
<path class="bx" d="M565.5 345 L601.5 345" stroke-width="4.74" fill="none" stroke-dasharray="5.5 3"/>
<path class="bx" d="M112.5 704 L148.5 704" stroke-width="4.74" fill="none" stroke-dasharray="5.5 3"/>
<path class="bx" d="M565.5 704 L601.5 704" stroke-width="4.74" fill="none" stroke-dasharray="5.5 3"/>
<path class="bx" d="M112.5 345 L112.5 381" stroke-width="4.74" fill="none" stroke-dasharray="5.5 3"/>
<path class="bx" d="M112.5 668 L112.5 704" stroke-width="4.74" fill="none" stroke-dasharray="5.5 3"/>
<path class="bx" d="M601.5 345 L601.5 381" stroke-width="4.74" fill="none" stroke-dasharray="5.5 3"/>
<path class="bx" d="M601.5 668 L601.5 704" stroke-width="4.74" fill="none" stroke-dasharray="5.5 3"/>
<path d="M356 332 L356 344" stroke-width="2.18" fill="none"/>
<path d="M128.3 566.7 C128.2 564.5 128.7 555.1 129.2 553.3 C129.7 551.5 134.0 543.0 135 541.7 C136.0 540.4 137.8 537.8 143.3 535.8 C148.8 533.8 199.5 517.4 210 514.2 C220.5 511.0 276.4 495.4 286.7 492.3 C297.0 489.2 339.8 474.5 350 471.3 C360.2 468.1 412.3 452.6 426.3 448.7 C440.3 444.8 531.6 420.4 540.7 418.2 C549.8 416.0 549.1 418.4 550.3 419.1 C551.5 419.8 556.0 424.4 557 427.7 C558.0 431.0 562.7 458.0 563.7 464 C564.7 470.0 570.6 505.2 571.3 509.7 C572.0 514.2 573.6 522.9 573.3 525 C573.0 527.1 569.0 536.8 567.7 538.3 C566.4 539.8 559.1 544.9 556 546 C552.9 547.1 533.8 551.9 525.7 553.7 C517.6 555.5 451.3 569.5 445.3 571 C439.3 572.5 445.3 574.0 443.3 574.7 C441.3 575.4 425.5 578.7 418.7 580.3 C411.9 581.9 363.0 593.8 350 596.7 C337.0 599.6 255.1 616.5 241.7 619.2 C228.3 622.0 172.8 633.0 166.7 634.2 C160.6 635.4 159.4 635.9 158.3 635.8 C157.2 635.7 152.7 634.5 151.7 633.3 C150.7 632.1 146.5 623.7 145 620 C143.5 616.3 132.0 587.2 130.8 583.3 C129.6 579.4 128.4 568.9 128.3 566.7 Z" stroke-width="2.69" fill="none"/>
<path d="M143.3 573.3 C142.7 570.1 142.9 561.7 143.3 560 C143.7 558.3 147.3 551.1 148.3 550 C149.3 548.9 152.2 546.6 156.7 545 C161.2 543.4 200.5 531.3 210 528.3 C219.5 525.3 272.8 508.4 286.7 504 C300.6 499.6 382.2 473.6 400 468.3 C417.8 463.0 519.9 434.3 530 431.7 C540.1 429.1 536.5 432.3 537.3 433.3 C538.1 434.3 540.1 441.6 540.7 445 C541.3 448.4 544.0 475.2 545 480 C546.0 484.8 554.3 506.7 555 510 C555.7 513.3 554.9 523.2 554 525 C553.1 526.8 551.7 531.4 543.3 534 C534.9 536.6 448.1 557.6 440 560 C431.9 562.4 435.3 566.0 433.3 566.7 C431.3 567.4 427.4 566.2 413.3 569 C399.2 571.8 258.8 600.3 241.7 604.2 C224.6 608.1 185.3 620.5 180 621.7 C174.7 622.9 171.5 620.6 170 620 C168.5 619.4 161.3 614.5 160 613.3 C158.7 612.1 152.9 606.2 151.7 603.3 C150.5 600.4 143.9 576.5 143.3 573.3 Z" stroke-width="2.30" fill="none"/>
<path d="M130.8 583.3 C130.8 587.2 130.1 601.7 130.8 606.7 C131.5 611.7 132.6 611.4 135 613.3 C137.4 615.2 143.3 617.5 145 618.3" stroke-width="2.05" fill="none"/>
<path d="M163.3 625 L160 628.3 L164.2 628" stroke-width="1.66" fill="none"/>
<path d="M253.3 524.2 C251.6 525.0 236.9 531.9 233.3 533.3 C229.7 534.7 214.4 539.4 210 540.8 C205.6 542.2 183.3 548.5 180 550 C176.7 551.5 171.8 556.6 170.8 558.3 C169.8 560.0 167.6 566.8 167.5 570 C167.4 573.2 169.6 593.2 170 596.7 C170.4 600.2 171.9 609.8 172.5 611.7 C173.1 613.6 175.9 619.2 176.7 620 C177.5 620.8 178.4 622.4 181.7 621.7 C185.0 621.0 211.7 613.2 216.7 611.7 C221.7 610.2 239.6 604.4 241.7 603.7" stroke-width="2.18" fill="none"/>
<path d="M253.3 524.2 C257.2 523.9 270.0 523.3 276.7 522.5 C283.4 521.7 290.5 519.8 293.3 519.2" stroke-width="1.92" fill="none"/>
<path d="M209.2 541.7 L215.8 600.8" stroke-width="1.92" fill="none"/>
<path d="M223.3 542.5 L234.2 581.7" stroke-width="1.92" fill="none"/>
<path d="M230.8 539.2 L236.7 573.3" stroke-width="1.92" fill="none"/>
<path d="M252.5 535.8 L257.5 573.3" stroke-width="1.92" fill="none"/>
<path d="M260.8 530.8 L265 553.3" stroke-width="1.92" fill="none"/>
<path d="M182.5 568.3 L189.2 617.5" stroke-width="1.92" fill="none"/>
<path d="M192.5 584.2 L206.7 614.2" stroke-width="1.92" fill="none"/>
<path d="M216.7 593.3 L226.7 570 L236.7 561.7 L265.8 554.2 L303.3 528.3 L303.3 517.5" stroke-width="2.05" fill="none"/>
<path d="M217.5 608.3 L241.7 584.2 L256.7 579.2 L265.8 554.2" stroke-width="2.05" fill="none"/>
<path d="M226.7 570 L235 583.3" stroke-width="1.79" fill="none"/>
<path d="M303.3 528.3 L355.8 528.7" stroke-width="2.05" fill="none"/>
<path d="M303.3 528.3 L319.2 545" stroke-width="1.92" fill="none"/>
<path d="M266.7 555.8 L345 555.8" stroke-width="2.43" fill="none"/>
<path d="M274.2 563.3 L313.3 587.5" stroke-width="1.92" fill="none"/>
<path d="M298.3 585 L326.7 568.3" stroke-width="1.92" fill="none"/>
<path d="M330 560 L325 586.7" stroke-width="1.79" fill="none"/>
<path d="M218.3 606.7 L241.7 595 L326.7 578.3 L356.7 575" stroke-width="1.92" fill="none"/>
<path d="M246.7 506.7 L253.3 520" stroke-width="1.66" fill="none"/>
<path d="M298.3 498.3 L306.7 505" stroke-width="1.66" fill="none"/>
<path d="M310 495 L318.3 500.8" stroke-width="1.66" fill="none"/>
<path d="M315 510 L326.7 505.8 L350 505" stroke-width="1.79" fill="none"/>
<path d="M351.7 490 L363.3 496.7" stroke-width="1.66" fill="none"/>
<path d="M330 579.3 C331.8 579.2 354.7 578.3 356.7 577.3 C358.7 576.3 358.6 566.0 359.3 565 C360.0 564.0 364.7 562.1 366.7 561.7 C368.7 561.3 387.5 557.7 389.3 558.3 C391.1 558.9 392.2 569.6 394 570 C395.8 570.4 414.1 565.8 416.7 565 C419.3 564.2 430.9 558.3 433.3 557.3 C435.7 556.3 447.7 551.9 453.3 550.7 C458.9 549.5 510.7 540.1 516.7 538.7 C522.7 537.3 540.9 531.2 543.3 530 C545.7 528.8 552.6 521.3 553.3 520.7" stroke-width="2.05" fill="none"/>
<path d="M363.3 577.3 L365 568.7 L383.3 565.3 L384 572" stroke-width="1.92" fill="none"/>
<path d="M313.3 494 C314.6 493.6 329.7 487.5 333.3 487.3 C336.9 487.1 363.8 491.1 366.7 490.7 C369.6 490.3 373.8 482.5 376.7 480.7 C379.6 478.9 406.7 464.4 410 464 C413.3 463.6 425.1 473.1 426.7 474 C428.3 474.9 431.8 478.0 434 477.3 C436.2 476.6 457.2 465.1 460 464 C462.8 462.9 471.8 462.5 476.7 460.7 C481.6 458.9 529.5 438.9 533.3 437.3" stroke-width="2.05" fill="none"/>
<path d="M314 507.3 L333.3 504 L370.7 500.7" stroke-width="1.79" fill="none"/>
<path d="M333.3 487.3 L343.3 493.3" stroke-width="1.66" fill="none"/>
<path d="M353.3 490 L361.7 496.7" stroke-width="1.66" fill="none"/>
<path d="M365 550.7 C364.9 549.7 362.1 532.8 363.3 530.7 C364.6 528.6 388.2 510.1 390 509 C391.8 507.9 397.7 507.9 398.3 508.3 C398.9 508.7 401.5 515.5 401.7 517.3 C401.9 519.0 401.7 542.0 401.7 543.3" stroke-width="2.05" fill="none"/>
<path d="M376.7 526.7 L393.3 513.3" stroke-width="1.66" fill="none"/>
<path d="M401.7 542 C404.3 541.7 429.0 539.9 433.3 538.7 C437.6 537.5 448.9 528.8 453.3 527.3 C457.8 525.8 482.8 520.4 486.7 520.7 C490.6 521.0 497.8 530.2 500 530.7 C502.2 531.2 511.2 528.4 513.3 527.3 C515.4 526.2 524.0 518.1 525 517.3" stroke-width="1.92" fill="none"/>
<path d="M401.7 523.3 L453.3 516.7" stroke-width="1.79" fill="none"/>
<ellipse cx="280.0" cy="508.3" rx="18.5" ry="8.5" transform="rotate(-8 280.0 508.3)" stroke-width="2.56" fill="#fff"/>
<ellipse cx="280.0" cy="507.3" rx="12" ry="5" transform="rotate(-8 280.0 507.3)" stroke-width="1.92" fill="none"/>
<ellipse cx="280.0" cy="509.0" rx="15" ry="6.5" transform="rotate(-8 280.0 509.0)" stroke-width="1.54" fill="none"/>
<ellipse cx="390.0" cy="483.3" rx="23.5" ry="9.5" transform="rotate(-8 390.0 483.3)" stroke-width="2.56" fill="#fff"/>
<ellipse cx="390.0" cy="482.3" rx="17" ry="6" transform="rotate(-8 390.0 482.3)" stroke-width="1.92" fill="none"/>
<ellipse cx="390.0" cy="484.0" rx="20" ry="7.5" transform="rotate(-8 390.0 484.0)" stroke-width="1.54" fill="none"/>
<path d="M411.7 470 L420 467.3 L425 471.7" stroke-width="1.66" fill="none"/>
<path d="M426.7 475.7 L433.3 517.3 L440 506.7" stroke-width="1.92" fill="none"/>
<path d="M436.7 484 L470 474 L473.3 511.7" stroke-width="1.92" fill="none"/>
<path d="M428.3 477.3 L437.3 484 L439.3 511.7" stroke-width="1.66" fill="none"/>
<path d="M433.3 517.3 L473.3 511.7" stroke-width="1.79" fill="none"/>
<path d="M460 464 L476.7 487.3 L500 477.3 L504 460.7" stroke-width="1.92" fill="none"/>
<path d="M476.7 487.3 L483.3 516.7" stroke-width="1.79" fill="none"/>
<path d="M500 477.3 L510.7 510.7 L487.3 527.3" stroke-width="1.92" fill="none"/>
<path d="M504 460.7 L527.3 450.7 L540.7 444" stroke-width="1.92" fill="none"/>
<path d="M510.7 510.7 L527.3 500.7 L547.3 487.3" stroke-width="1.79" fill="none"/>
<path d="M440 506.7 L513.3 486.7" stroke-width="1.79" fill="none"/>
<path d="M453.3 491.7 L454 503.3 L450 510" stroke-width="1.66" fill="none"/>
<path d="M540.7 445 C542.2 448.2 547.3 456.4 550 464 C552.7 471.6 556.2 481.9 556.7 490.7 C557.2 499.5 553.9 512.4 553.3 516.7" stroke-width="1.92" fill="none"/>
<circle cx="550.0" cy="434.0" r="1.6" stroke-width="1.92" fill="#111"/>
<path d="M523.3 521.7 L543.3 516.7" stroke-width="1.66" fill="none"/>
<path d="M210 415 L210 445" stroke-width="2.18" fill="none"/>
<path d="M180 461 L223 445.5 Q228 444.5 232 448 L234 451 Q236 455 231 457 L192 471.5 Q187 472.5 184 470 L179 465 Q177 462.5 180 461 Z" stroke-width="2.56" fill="none"/>
<path d="M210 466.7 L210 530" stroke-width="2.18" fill="none" stroke-dasharray="10 5"/>
<path d="M316 391.7 L316 420" stroke-width="2.18" fill="none"/>
<path d="M299.5 424 Q303 420.5 309 420.5 L329 421.5 L345 436.5 Q346 438.5 342 438.5 L322 438.5 Q318 438.5 315 436 L300 428 Q297 426 299.5 424 Z" stroke-width="2.56" fill="none"/>
<path d="M310 425 L321.7 430" stroke-width="1.54" fill="none"/>
<path d="M328.3 440 L328.3 496.7" stroke-width="2.18" fill="none" stroke-dasharray="10 5"/>
<path d="M424 370 L424 398.3" stroke-width="2.18" fill="none"/>
<path d="M401.5 402.5 Q408 398.5 416 398.5 L436 398.5 Q441 399 444.5 403 Q446.5 406.5 442 408 L420 414.5 Q416 415.5 412.5 413.5 L402 407 Q399 404.5 401.5 402.5 Z" stroke-width="2.56" fill="none"/>
<path d="M425 417.3 L425 466.7" stroke-width="2.56" fill="none" stroke-dasharray="10 5"/>
<path d="M515.7 371.7 L515.7 395" stroke-width="2.18" fill="none"/>
<path d="M499 408 L512 398 L541 391.5 Q546 391 546.5 394 Q546 397 542 398.5 L530 405 L503 411.5 Q498 412 499 408 Z" stroke-width="2.56" fill="none"/>
<path d="M508 405.5 L517 400 L533 397.5 L527 402.5 Z" stroke-width="1.92" fill="none"/>
<path d="M518.3 414 L518.3 437.3" stroke-width="1.92" fill="none" stroke-dasharray="8 4"/>
<path d="M542.5 300 L542.5 440" stroke-width="2.05" fill="none" stroke-dasharray="9 5"/>
<path d="M508.3 480.7 L636 449.3" stroke-width="1.79" fill="none" stroke-dasharray="7 4"/>
<path d="M225 652 L258 645.5 L259.5 691 L227 698.5 Z" stroke-width="2.56" fill="#fff"/>
<path d="M193.3 673.3 L225 673.3" stroke-width="2.18" fill="none"/>
<path d="M243.3 546.7 L243.3 646.7" stroke-width="2.18" fill="none" stroke-dasharray="10 5"/>
<path d="M386.7 623.3 L411.7 623.3" stroke-width="2.18" fill="none"/>
<ellipse cx="419.5" cy="623.5" rx="7.5" ry="5" transform="rotate(0 419.5 623.5)" stroke-width="2.82" fill="none"/>
<ellipse cx="419.5" cy="623" rx="3" ry="2" transform="rotate(0 419.5 623)" stroke-width="1.92" fill="none"/>
<path d="M390 657.3 L411.7 657.3" stroke-width="2.18" fill="none"/>
<path d="M413 658 Q413 654 417 654 L418 648 Q420 646 422 648 L423 654 Q427 655 426 659 Q420 664 413 658 Z" stroke-width="2.43" fill="none"/>
<path d="M416 654 L424 654" stroke-width="1.54" fill="none"/>
<path d="M417 651 L423 651" stroke-width="1.54" fill="none"/>
<path d="M419 586.7 L419 616.7" stroke-width="2.18" fill="none" stroke-dasharray="9 5"/>
<path d="M419 630 L419 648.3" stroke-width="2.18" fill="none" stroke-dasharray="9 5"/>
<path d="M438.5 604 L473 597 L474 643.5 L439.5 650 Z" stroke-width="2.56" fill="#fff"/>
<path d="M456.7 648.3 L456.7 678.3" stroke-width="2.18" fill="none"/>
<path d="M456 490 L456 598.3" stroke-width="2.18" fill="none" stroke-dasharray="10 5"/>
<path d="M516 585 L535 582 L535 616.5 L516.5 620 Z" stroke-width="2.56" fill="#fff"/>
<path d="M526 620 L526 648.3" stroke-width="2.18" fill="none"/>
<path d="M525 466.7 L525 583.3" stroke-width="2.18" fill="none" stroke-dasharray="10 5"/>
<path d="M1096.2 452.5 C1097.5 452.6 1101.6 453.8 1103 455.5 C1104.4 457.2 1108.9 466.6 1110 470 C1111.1 473.4 1113.4 485.0 1113.8 490 C1114.2 495.0 1114.6 515.2 1114 520 C1113.4 524.8 1109.9 534.2 1107.5 537.5 C1105.1 540.8 1093.2 550.0 1090 552.5 C1086.8 555.0 1077.2 562.2 1075 563 C1072.8 563.8 1068.9 561.8 1067.5 560 C1066.1 558.2 1062.1 548.5 1061.2 545 C1060.3 541.5 1058.7 529.5 1058.8 525 C1058.9 520.5 1061.4 504.5 1062.5 500 C1063.6 495.5 1068.2 483.7 1070 480 C1071.8 476.3 1078.0 465.6 1080 463 C1082.0 460.4 1087.9 455.1 1089.5 454 C1091.1 452.9 1094.9 452.4 1096.2 452.5 Z" stroke-width="2.56" fill="none"/>
<ellipse cx="1094.5" cy="500.0" rx="15" ry="25" transform="rotate(-8 1094.5 500.0)" stroke-width="2.43" fill="none"/>
<ellipse cx="1093.0" cy="500.0" rx="11" ry="19" transform="rotate(-8 1093.0 500.0)" stroke-width="1.92" fill="none"/>
<path d="M1075 505 C1075.2 508.3 1074.3 519.0 1076.2 525 C1078.1 531.0 1082.2 538.7 1086.2 541.2 C1090.2 543.7 1096.0 542.5 1100 540 C1104.0 537.5 1108.8 528.5 1110.5 526.2" stroke-width="1.92" fill="none"/>
<circle cx="1085.0" cy="491.2" r="4.2" stroke-width="2.05" fill="none"/>
<path d="M1099 502 Q1087 503 1088 511 Q1090 518 1098 515" stroke-width="2.18" fill="none"/>
<path d="M1046.2 483 L1065 479 L1063 490 L1048 493 Z" stroke-width="2.43" fill="none"/>
<path d="M1050 486.2 L1057.5 484.5 L1055.5 489.5" stroke-width="1.66" fill="none"/>
<circle cx="1106.2" cy="533.8" r="2" stroke-width="1.66" fill="none"/>
<path d="M1063 524 Q1061 527 1063 529" stroke-width="1.66" fill="none"/>
<path d="M1115 498 L1141.2 498" stroke-width="2.18" fill="none"/>
<path d="M1115 531.2 L1172.5 515 L1185 517" stroke-width="1.92" fill="none" stroke-dasharray="8 4"/>
<ellipse cx="1197" cy="522" rx="3.2" ry="5.5" transform="rotate(15 1197 522)" stroke-width="2.30" fill="none"/>
<path d="M1186 518 L1193 518 L1190 530" stroke-width="2.30" fill="none"/>
<path d="M1163 574 Q1162 570 1166 569 L1166 560 Q1168.5 557 1171 560 L1171.5 569 Q1176 570 1175 575 Q1169 581 1163 574 Z" stroke-width="2.43" fill="none"/>
<path d="M1177.5 573.8 L1205 573.8" stroke-width="2.18" fill="none"/>
<path d="M1169 582 L1169 615" stroke-width="2.18" fill="none" stroke-dasharray="8 4"/>
<path d="M1134 603.8 L1168 595" stroke-width="1.92" fill="none" stroke-dasharray="7 4"/>
<path d="M1163 629 L1176 629 L1177 635 L1174 640 L1166 640 L1162 635 Z" stroke-width="2.56" fill="none"/>
<path d="M1169.5 618 L1169.5 628" stroke-width="5.12" fill="none"/>
<path d="M1164 634 L1176 634" stroke-width="1.54" fill="none"/>
<path d="M1176 633.8 L1200 633.8" stroke-width="2.18" fill="none"/>
<ellipse cx="1160" cy="750.5" rx="6" ry="7" transform="rotate(0 1160 750.5)" stroke-width="2.82" fill="none"/>
<ellipse cx="1157" cy="750" rx="3" ry="5" transform="rotate(0 1157 750)" stroke-width="1.66" fill="none"/>
<path d="M1144 745 L1153 748" stroke-width="5.12" fill="none"/>
<path d="M1167.5 752.5 L1200 752.5" stroke-width="2.18" fill="none"/>
<path d="M1292.5 473.8 C1293.1 473.7 1297.9 472.1 1300 472.5 C1302.1 472.9 1314.4 477.8 1317.5 478 C1320.6 478.2 1332.7 476.5 1337.5 475 C1342.3 473.5 1369.8 462.1 1375 460 C1380.2 457.9 1396.2 451.0 1400 450 C1403.8 449.0 1416.7 447.5 1420 447.5 C1423.3 447.5 1437.7 449.2 1440 450 C1442.3 450.8 1446.7 455.8 1447.5 457.5 C1448.3 459.2 1449.9 467.9 1450 470 C1450.1 472.1 1449.4 481.0 1448.8 482.5 C1448.2 484.0 1444.5 486.9 1442.5 487.5 C1440.5 488.1 1427.9 489.4 1425 490 C1422.1 490.6 1411.7 492.9 1407.5 495 C1403.3 497.1 1380.6 511.9 1375 515 C1369.4 518.1 1345.2 530.4 1340 532.5 C1334.8 534.6 1316.7 539.3 1312.5 540 C1308.3 540.7 1292.2 540.9 1290 541.2 C1287.8 541.5 1287.0 543.7 1286.2 543.8 C1285.4 543.9 1280.5 542.6 1280 542.5" stroke-width="2.56" fill="none"/>
<path d="M1292.5 473.8 C1292.5 474.7 1292.2 480.6 1293 482.5 C1293.8 484.4 1299.0 490.0 1300 492.5 C1301.0 495.0 1302.5 504.2 1302.5 507.5 C1302.5 510.8 1301.0 522.5 1300 525 C1299.0 527.5 1294.0 531.4 1292.5 532 C1291.0 532.6 1285.8 531.3 1285 531.2" stroke-width="2.56" fill="none"/>
<path d="M1280 528.8 L1275 532.5 L1272.5 541.2 L1278 539.5 L1280.5 535 L1285 535.5" stroke-width="2.43" fill="none"/>
<path d="M1300 482.5 C1301.5 482.9 1314.2 487.3 1317.5 487.5 C1320.8 487.7 1335.2 486.5 1340 485 C1344.8 483.5 1370.0 472.1 1375 470 C1380.0 467.9 1396.2 461.1 1400 460 C1403.8 458.9 1417.1 456.4 1420 456.2 C1422.9 456.0 1433.1 457.0 1435 457.5 C1436.9 458.0 1442.3 461.6 1443 462" stroke-width="1.92" fill="none"/>
<path d="M1410 470 L1410 482.5" stroke-width="1.79" fill="none"/>
<path d="M1410 470 L1446.2 467.5" stroke-width="1.79" fill="none"/>
<path d="M1410 482.5 L1446.2 483" stroke-width="1.79" fill="none"/>
<path d="M1330 502.5 C1329.8 505.4 1330.5 515.0 1328.8 520 C1327.1 525.0 1321.5 530.4 1320 532.5" stroke-width="1.79" fill="none"/>
<path d="M1290 538.8 C1291.9 538.5 1308.3 536.1 1312.5 535 C1316.7 533.9 1334.8 527.3 1340 525 C1345.2 522.7 1369.4 510.4 1375 507.5 C1380.6 504.6 1404.8 491.5 1407.5 490" stroke-width="1.79" fill="none"/>
<circle cx="1298.8" cy="477.5" r="1.8" stroke-width="1.66" fill="none"/>
<circle cx="1437.5" cy="456.2" r="2.2" stroke-width="2.05" fill="none"/>
<path d="M1431.2 490 L1431.2 526.2" stroke-width="2.18" fill="none"/>
<circle cx="1354" cy="463" r="6.5" stroke-width="2.56" fill="none"/>
<ellipse cx="1352" cy="463" rx="2.6" ry="4.4" transform="rotate(0 1352 463)" stroke-width="1.79" fill="none"/>
<path d="M1355 458 L1356 468" stroke-width="1.54" fill="none"/>
<path d="M1322.5 460 L1347.5 460" stroke-width="2.18" fill="none"/>
<path d="M1336.2 467.5 L1300 480 L1250 492.5 L1112.5 444.5" stroke-width="1.92" fill="none" stroke-dasharray="9 5"/>
<path d="M1102.2 600.9 C1103.1 600.3 1105.6 598.5 1107.7 598.8 C1109.8 599.1 1129.2 604.3 1131.4 605.5 C1133.6 606.7 1137.0 613.7 1137.8 615.5 C1138.6 617.3 1142.0 627.6 1142.3 630.1 C1142.6 632.6 1141.3 647.8 1141.4 650.2 C1141.5 652.6 1143.7 661.0 1144.1 662.9 C1144.5 664.8 1147.0 674.1 1146.9 675.7 C1146.8 677.3 1143.3 683.9 1142.3 684.8 C1141.3 685.7 1134.3 687.6 1133.2 688.5 C1132.1 689.4 1129.7 694.9 1127.7 697.6 C1125.7 700.3 1107.8 722.2 1105.9 724.9 C1104.0 727.6 1102.9 732.5 1102.2 734 C1101.5 735.5 1096.9 745.1 1095.8 745.9 C1094.7 746.7 1090.9 744.0 1087.6 745 C1084.3 746.0 1057.2 757.9 1051.2 759.6 C1045.2 761.3 1009.1 766.2 1005.6 767.8 C1002.1 769.4 1003.7 779.7 1002.8 781.4 C1001.9 783.1 994.1 791.0 992.8 791.5 C991.5 792.0 986.7 788.7 985.5 787.8 C984.3 786.9 977.3 780.9 976.4 779.6 C975.5 778.3 973.6 772.4 973.7 770.5 C973.8 768.6 976.8 757.0 978.2 754.1 C979.6 751.2 990.7 733.3 992.8 730.4 C994.9 727.5 1004.2 717.3 1007.4 714 C1010.6 710.7 1032.6 688.8 1036.6 684.8 C1040.6 680.8 1059.2 662.6 1062.1 659.3 C1065.0 656.0 1074.8 642.4 1076.7 639.2 C1078.6 636.0 1086.3 617.9 1087.6 615.5 C1088.9 613.1 1093.8 607.5 1094.9 606.4 C1096.0 605.3 1101.3 601.5 1102.2 600.9 Z" stroke-width="2.56" fill="none"/>
<path d="M1104 606.4 C1105.7 606.7 1121.8 608.7 1124.1 610.1 C1126.4 611.5 1130.5 620.5 1131.4 622.8 C1132.3 625.1 1134.7 634.1 1135 637.4 C1135.3 640.7 1135.0 660.8 1135 662.9" stroke-width="1.92" fill="none"/>
<path d="M1127.7 607.3 C1128.3 608.3 1134.0 617.0 1135 619.2 C1136.0 621.4 1139.2 631.2 1139.6 633.8 C1140.0 636.4 1139.4 647.8 1139.6 650.2 C1139.8 652.6 1141.9 660.9 1142.3 662.9 C1142.7 664.9 1143.9 673.0 1144.1 673.9" stroke-width="1.92" fill="none"/>
<path d="M1091.3 615.5 C1090.7 617.3 1085.8 633.9 1084 637.4 C1082.2 640.9 1073.1 653.5 1069.4 657.5 C1065.8 661.5 1044.8 680.1 1040.2 684.8 C1035.6 689.5 1018.2 710.0 1014.7 714 C1011.2 718.0 999.7 730.7 998.3 732.2" stroke-width="2.05" fill="none"/>
<path d="M1094.9 617.3 C1095.8 617.5 1103.5 618.3 1104 619.2 C1104.5 620.1 1102.0 625.0 1100.4 626.5 C1098.8 628.0 1089.2 631.8 1087.6 633.8 C1086.0 635.8 1085.1 644.0 1084 646.5 C1082.9 649.0 1078.9 656.8 1076.7 659.3 C1074.5 661.8 1064.6 668.7 1062.1 672 C1059.5 675.3 1053.4 689.0 1051.2 692.1 C1049.0 695.2 1043.1 701.2 1040.2 703 C1037.3 704.8 1025.1 708.5 1022 710.3 C1018.9 712.1 1010.8 719.3 1009.2 721.3 C1007.6 723.3 1005.4 729.4 1005.6 730.4 C1005.8 731.4 1010.5 731.2 1011 731.3" stroke-width="2.18" fill="none"/>
<path d="M1104 629.2 C1101.9 630.9 1094.0 635.7 1091.3 639.2 C1088.6 642.7 1088.2 648.4 1087.6 650.2" stroke-width="1.79" fill="none"/>
<path d="M1115 624.6 C1114.5 625.1 1109.9 628.3 1109.5 630.1 C1109.1 631.9 1112.0 640.4 1111.3 642.9 C1110.6 645.4 1104.2 653.6 1102.2 655.6 C1100.2 657.6 1093.8 660.0 1091.3 662.9 C1088.8 665.8 1079.6 680.8 1076.7 684.8 C1073.8 688.8 1064.3 700.5 1062.1 703 C1059.9 705.5 1057.0 708.8 1054.8 710.3 C1052.6 711.8 1042.4 715.8 1040.2 717.6 C1038.0 719.4 1034.9 727.0 1032.9 728.6 C1030.9 730.2 1021.6 733.0 1020.2 734 C1018.8 735.0 1019.0 738.1 1019.3 738.6 C1019.6 739.1 1022.5 738.6 1022.9 738.6" stroke-width="2.18" fill="none"/>
<path d="M1115.9 633.8 C1115.6 635.1 1114.8 643.2 1113.1 646.5 C1111.4 649.8 1102.2 662.0 1098.6 666.6 C1095.0 671.2 1079.8 688.1 1076.7 692.1 C1073.6 696.1 1070.1 703.9 1067.6 706.7 C1065.0 709.5 1052.8 719.0 1051.2 720.4" stroke-width="1.92" fill="none"/>
<path d="M1129.6 635.6 C1128.5 638.7 1121.0 661.0 1118.6 666.6 C1116.2 672.2 1108.3 688.1 1105.9 692.1 C1103.5 696.1 1097.8 704.5 1094.9 706.7 C1092.0 708.9 1079.2 712.5 1076.7 714 C1074.2 715.5 1072.0 718.8 1069.4 721.3 C1066.9 723.8 1054.9 737.0 1051.2 739.5 C1047.5 742.0 1037.6 745.3 1032.9 746.8 C1028.2 748.3 1006.7 753.4 1003.8 754.1" stroke-width="2.05" fill="none"/>
<path d="M1120.4 632.8 L1130.5 636.5" stroke-width="1.92" fill="none"/>
<path d="M1104.9 665.7 L1116.8 671.1" stroke-width="1.92" fill="none"/>
<path d="M1092.2 680.2 L1109.5 688.5 L1116.8 693.9" stroke-width="1.92" fill="none"/>
<path d="M1073 703.9 L1087.6 710.3 L1094.9 714" stroke-width="1.92" fill="none"/>
<path d="M1062.1 714 L1080.3 725.8" stroke-width="1.92" fill="none"/>
<path d="M1076.7 672 L1084 675.7" stroke-width="1.92" fill="none"/>
<path d="M1063 662 L1069.4 667.5" stroke-width="1.92" fill="none"/>
<path d="M1075.8 647.4 L1081.2 652.9" stroke-width="1.92" fill="none"/>
<path d="M1038.4 684.8 L1045.7 697.6 L1049.3 690.3" stroke-width="1.92" fill="none"/>
<path d="M1053 703 L1059.4 708.5 L1063.9 697.6" stroke-width="1.92" fill="none"/>
<path d="M1001.9 754.1 L1040.2 745 L1080.3 741.7" stroke-width="1.92" fill="none"/>
<path d="M992.8 730.4 L1001.9 730.4 L1003.8 748.6 L998.3 754.1" stroke-width="1.92" fill="none"/>
<path d="M978.2 754.1 L991 741.3 L993.7 755 L1002.8 765" stroke-width="1.92" fill="none"/>
<path d="M992.8 755 L991 772.3 L996.5 761.4" stroke-width="1.92" fill="none"/>
<path d="M981.9 774.1 L989.2 776 L987.3 783.3" stroke-width="1.92" fill="none"/>
<path d="M1020.2 717.6 L1027.5 715.8" stroke-width="1.92" fill="none"/>
<path d="M1018.3 724.9 L1022.9 717.6" stroke-width="1.92" fill="none"/>
<path d="M1027.5 735.9 L1040.2 732.2" stroke-width="1.92" fill="none"/>
<path d="M1107.7 608.2 L1111.3 615.5 L1118.6 613.7" stroke-width="1.92" fill="none"/>
<path d="M1115 608.2 L1120.4 611.9" stroke-width="1.92" fill="none"/>
<path d="M1093.1 617.3 L1098.6 621.9" stroke-width="1.92" fill="none"/>
<path d="M1109.5 626.5 L1115 623.7" stroke-width="1.92" fill="none"/>
<path d="M997.4 781.4 L1002.8 765" stroke-width="1.92" fill="none"/>
<path d="M1119.5 689.4 L1125 681.2 L1131.4 683.9 L1126.8 693.9 Z" stroke-width="2.05" fill="none"/>
<path d="M1094 726.7 L1099.5 719.4 L1105.9 723.1 L1100.4 731.3 Z" stroke-width="2.05" fill="none"/>
<path d="M1113.8 740 L1122.5 731.2 L1131.2 736.2 L1123.8 745.5 Z" stroke-width="2.43" fill="none"/>
<path d="M1118.8 740 L1122.5 735.5 L1126.2 738 L1123 742 Z" stroke-width="1.79" fill="none"/>
<path d="M1122.5 746.2 L1122.5 785" stroke-width="2.18" fill="none"/>
<path d="M1122.5 805 L1122.5 814.5" stroke-width="2.18" fill="none"/>
<path d="M1043 763.8 L1043 814.5 L1122.5 814.5" stroke-width="2.18" fill="none"/>
<path d="M1082 814.5 L1082 821.2" stroke-width="2.18" fill="none"/>
<path d="M1105 730 L1115 735.5" stroke-width="1.92" fill="none" stroke-dasharray="6 4"/>
<path d="M233.8 727.5 L233.8 732.5" stroke-width="2.18" fill="none"/>
<path d="M181.2 741.2 L181.2 733 L285.5 733 L285.5 742.5" stroke-width="2.18" fill="none"/>
<path d="M182 760 L182 813.8" stroke-width="2.18" fill="none"/>
<path d="M252 733 L252 778.8" stroke-width="2.18" fill="none"/>
<path d="M285.5 762.5 L285.5 790" stroke-width="2.18" fill="none"/>
<path d="M176.0 815.5 L180.0 813.5 L188.5 818.5 L189.0 825.0 L185.0 824.5 L184.5 820.5 L178.0 819.0 Z" stroke-width="2.43" fill="none"/>
<path d="M191.2 816.2 L223.8 808.8" stroke-width="1.92" fill="none" stroke-dasharray="8 4"/>
<path d="M257.5 801.2 L278.8 796.2" stroke-width="1.92" fill="none" stroke-dasharray="8 4"/>
<path d="M225 786.2 L231.2 780.5 L255 780 L256.2 800 L250 805 L230 810 L224.5 806.2 Z" stroke-width="2.56" fill="none"/>
<path d="M232.5 786.2 L238.8 788.8 L250 786.2" stroke-width="1.66" fill="none"/>
<path d="M242.5 795 L250 800 L255 796.2" stroke-width="1.66" fill="none"/>
<path d="M230 810 L235 807.5 L240 860 L252 860 L253.8 855 L250 805" stroke-width="2.43" fill="none"/>
<path d="M240 808 L244 859" stroke-width="1.79" fill="none"/>
<path d="M235 808 L238 855" stroke-width="1.79" fill="none"/>
<path class="tb" d="M280 795 L302.5 790.5" stroke-width="9.22" fill="none"/>
<path class="tw" d="M280 795 L302.5 790.5" stroke-width="5.12" fill="none"/>
<ellipse cx="304.5" cy="790.0" rx="3" ry="5.5" transform="rotate(-10 304.5 790.0)" stroke-width="2.43" fill="#fff"/>
<ellipse cx="236.5" cy="858.0" rx="5" ry="3.5" transform="rotate(0 236.5 858.0)" stroke-width="2.82" fill="none"/>
<path d="M238 861.2 L238.5 866.2" stroke-width="3.84" fill="none"/>
<circle cx="273.8" cy="821.3" r="11" stroke-width="2.05" fill="#fff"/>
<text x="273.8" y="827.6" font-size="17.5" text-anchor="middle" stroke-width="0.9">B</text>
<path d="M287.5 822.5 L307.5 822.5" stroke-width="2.18" fill="none"/>
<path d="M252.5 805 L256.5 810.5 L253.8 810" stroke-width="1.66" fill="none"/>
<path d="M233.8 875.5 C234.0 875.2 235.0 872.9 236.2 872.5 C237.4 872.1 244.6 871.0 246.2 871.5 C247.8 872.0 251.6 875.8 252.5 877 C253.4 878.2 253.8 882.1 255.5 883.8 C257.2 885.5 266.8 892.3 270 893.8 C273.2 895.3 284.3 898.3 287.5 898.8 C290.7 899.3 300.6 898.8 302 898.8" stroke-width="2.43" fill="none"/>
<path d="M233.8 875.5 C234.4 875.9 239.0 878.3 240 879.5 C241.0 880.7 241.8 885.6 243.8 887.5 C245.8 889.4 256.4 896.8 260 898.8 C263.6 900.8 275.9 906.7 280 908 C284.1 909.3 298.4 911.1 300.5 911.5" stroke-width="2.43" fill="none"/>
<path d="M240 876.2 C240.8 876.4 246.2 876.9 247.5 878 C248.8 879.1 250.2 885.0 252.5 887 C254.8 889.0 265.5 896.1 270 898 C274.5 899.9 294.8 904.8 297.5 905.5" stroke-width="1.66" fill="none"/>
<ellipse cx="241.2" cy="875.0" rx="4.5" ry="2" transform="rotate(5 241.2 875.0)" stroke-width="1.66" fill="none"/>
<ellipse cx="306.2" cy="904.2" rx="4.8" ry="6.5" transform="rotate(-10 306.2 904.2)" stroke-width="2.43" fill="#fff"/>
<path d="M302 898.8 L306.2 897.8" stroke-width="2.30" fill="none"/>
<path d="M300.5 911.5 L307 910.8" stroke-width="2.30" fill="none"/>
<path d="M288.8 871.2 L288.8 897.5" stroke-width="2.18" fill="none"/>
<path d="M315 901.2 L341.2 895" stroke-width="1.92" fill="none" stroke-dasharray="8 4"/>
<path class="tb" d="M343.8 894.2 L362 890" stroke-width="9.22" fill="none"/>
<path class="tw" d="M343.8 894.2 L362 890" stroke-width="5.12" fill="none"/>
<ellipse cx="364.5" cy="889.5" rx="3.5" ry="6" transform="rotate(-10 364.5 889.5)" stroke-width="2.43" fill="#fff"/>
<path d="M363.8 896.2 L365 920" stroke-width="2.18" fill="none"/>
<circle cx="220" cy="903.8" r="11" stroke-width="2.05" fill="#fff"/>
<text x="220" y="910.1" font-size="17.5" text-anchor="middle" stroke-width="0.9">N</text>
<path d="M186.2 903.8 L208 903.8" stroke-width="2.18" fill="none"/>
<path d="M220 886.2 L243.8 897.5" stroke-width="1.92" fill="none" stroke-dasharray="7 4"/>
<path d="M218 888 L220 885 L223 886.2" stroke-width="1.79" fill="none"/>
<path d="M243.8 893.8 L244.5 898.8 L241.2 897.5" stroke-width="1.79" fill="none"/>
<path d="M243.5 918.0 L247.5 916.0 L256.0 921.0 L256.5 927.5 L252.5 927.0 L252.0 923.0 L245.5 921.5 Z" stroke-width="2.43" fill="none"/>
<path d="M250 928.8 L250 947.5" stroke-width="2.18" fill="none"/>
<path d="M260 917.5 L287.5 910" stroke-width="1.92" fill="none" stroke-dasharray="8 4"/>
<path d="M625.5 728.8 L625.5 745" stroke-width="2.18" fill="none"/>
<path class="tb" d="M605 755 L625 749.5" stroke-width="9.22" fill="none"/>
<path class="tw" d="M605 755 L625 749.5" stroke-width="5.12" fill="none"/>
<ellipse cx="627.5" cy="748.8" rx="3.2" ry="6" transform="rotate(-12 627.5 748.8)" stroke-width="2.43" fill="#fff"/>
<path d="M545 748 L548.8 742.5 L556.2 741.2 L560 746.2 L560 813.8 L555 818.8 L546.2 817.5 Z" stroke-width="2.43" fill="none"/>
<path d="M550.5 750 L550.5 815.5" stroke-width="1.79" fill="none"/>
<path d="M548.8 743 L550.5 750" stroke-width="1.66" fill="none"/>
<ellipse cx="542.0" cy="815.5" rx="4.5" ry="3.2" transform="rotate(0 542.0 815.5)" stroke-width="2.82" fill="none"/>
<path d="M543 819.5 L543.5 823.8" stroke-width="3.84" fill="none"/>
<path d="M562.5 751.2 L583.8 762.5 L602.5 757.5" stroke-width="1.92" fill="none" stroke-dasharray="8 4"/>
<path d="M567.5 769.5 L571.0 767.5 L577.0 771.5 L582.0 771.5 L583.0 776.5 L578.0 778.0 L574.0 774.5 L569.0 773.5 Z" stroke-width="2.43" fill="none"/>
<path d="M583.8 773.2 L613.8 773.2" stroke-width="2.18" fill="none"/>
<path d="M560 803 L587.5 803" stroke-width="2.18" fill="none"/>
<path d="M538 833.8 C538.2 833.5 538.4 830.9 540 830.5 C541.6 830.1 552.0 829.4 553.8 830 C555.5 830.6 556.4 834.8 557.5 836.2 C558.6 837.6 561.5 841.9 565 843.8 C568.5 845.7 587.8 853.6 592.5 855 C597.2 856.4 609.7 857.3 612.5 857.5 C615.3 857.7 619.7 857.0 620.5 857" stroke-width="2.43" fill="none"/>
<path d="M538 833.8 C538.7 834.2 544.0 836.4 545 837.5 C546.0 838.6 545.5 843.1 547.5 845 C549.5 846.9 561.0 854.2 565 856.2 C569.0 858.2 583.0 863.7 587.5 865 C592.0 866.3 607.0 868.5 610 869 C613.0 869.5 616.3 869.9 617 870" stroke-width="2.43" fill="none"/>
<path d="M545 833.8 C545.8 834.2 550.8 836.5 552.5 838 C554.2 839.5 558.8 846.6 562.5 848.8 C566.2 851.0 585.0 858.5 590 860 C595.0 861.5 610.2 863.4 612.5 863.8" stroke-width="1.66" fill="none"/>
<ellipse cx="545.5" cy="832.5" rx="4.5" ry="2" transform="rotate(5 545.5 832.5)" stroke-width="1.66" fill="none"/>
<ellipse cx="619.2" cy="863.2" rx="4.8" ry="6.5" transform="rotate(-10 619.2 863.2)" stroke-width="2.43" fill="#fff"/>
<path d="M560 838.2 L581.2 838.2" stroke-width="2.18" fill="none"/>
<circle cx="519.3" cy="856.3" r="11" stroke-width="2.05" fill="#fff"/>
<text x="519.3" y="862.6" font-size="17.5" text-anchor="middle" stroke-width="0.9">N</text>
<path d="M485 857 L505 857" stroke-width="2.18" fill="none"/>
<path d="M520 841.2 L550 856.2" stroke-width="1.92" fill="none" stroke-dasharray="7 4"/>
<path d="M518 843 L519.5 840 L523 841.2" stroke-width="1.79" fill="none"/>
<path d="M550 852.5 L551 858 L547.5 856.5" stroke-width="1.79" fill="none"/>
<path class="tb" d="M641.2 856.8 L661.2 852" stroke-width="9.22" fill="none"/>
<path class="tw" d="M641.2 856.8 L661.2 852" stroke-width="5.12" fill="none"/>
<ellipse cx="663.8" cy="851.2" rx="3.2" ry="6" transform="rotate(-12 663.8 851.2)" stroke-width="2.43" fill="#fff"/>
<path d="M667.5 851.2 L693.8 851.2" stroke-width="2.18" fill="none"/>
<path d="M626.2 860 L637.5 857.5" stroke-width="1.92" fill="none" stroke-dasharray="6 4"/>
<path d="M574.7 872.2 L578.7 870.2 L587.2 875.2 L587.7 881.7 L583.7 881.2 L583.2 877.2 L576.7 875.7 Z" stroke-width="2.43" fill="none"/>
<path d="M545 878.8 L575 878.8" stroke-width="2.18" fill="none"/>
<path d="M587.5 872.5 L602.5 868.8" stroke-width="1.92" fill="none" stroke-dasharray="6 4"/>
<path d="M171.2 1001.2 C171.0 1000.4 174.0 996.6 175 996.2 C176.0 995.8 185.9 993.8 187.5 994.5 C189.1 995.2 198.3 1006.9 201.2 1007.5 C204.0 1008.1 232.7 1005.5 235 1005 C237.3 1004.5 238.8 1000.5 240 1000 C241.2 999.5 253.1 997.7 255 997.5 C256.9 997.3 271.1 996.9 272.5 996.2 C273.9 995.5 276.4 987.3 277.5 986.2 C278.6 985.1 287.8 978.3 290 977.5 C292.2 976.7 313.2 973.3 315 972.5 C316.8 971.7 319.1 964.8 320 963.8 C320.9 962.8 328.5 957.0 330 956.2 C331.5 955.4 342.8 951.3 345 951.2 C347.2 951.1 364.9 953.8 367.5 953.8 C370.1 953.8 386.0 950.9 387.5 951.2 C389.0 951.5 391.0 957.7 392.5 958.8 C394.0 959.9 410.9 969.0 412.5 970 C414.1 971.0 418.2 975.1 420 976.2 C421.8 977.3 440.1 987.4 442.5 988.8 C444.9 990.2 457.0 998.1 460 1000 C463.0 1001.9 488.9 1018.2 492.5 1020 C496.1 1021.8 517.9 1029.3 520 1030 C522.1 1030.7 527.2 1030.9 527.5 1031.2 C527.8 1031.5 527.0 1034.5 525 1035 C523.0 1035.5 497.7 1038.6 495 1038.8 C492.3 1039.0 482.6 1037.1 480 1037.5 C477.4 1037.9 454.8 1044.2 452.5 1045 C450.2 1045.8 445.8 1050.4 442.5 1051.2 C439.2 1052.0 400.9 1058.6 397.5 1058.8 C394.1 1059.0 388.1 1053.8 385 1053.8 C381.9 1053.8 351.8 1057.9 345 1058.8 C338.2 1059.7 278.1 1069.0 272.5 1068.8 C266.9 1068.6 254.8 1054.3 252.5 1055 C250.2 1055.7 236.5 1078.4 235 1080 C233.5 1081.6 231.1 1083.0 227.5 1081.2 C223.9 1079.4 177.9 1052.5 175 1050 C172.1 1047.5 178.7 1041.7 178.8 1040 C179.0 1038.3 177.5 1024.3 177.5 1022.5 C177.5 1020.7 179.2 1011.3 178.8 1010 C178.4 1008.7 171.4 1002.0 171.2 1001.2 Z" stroke-width="2.56" fill="none"/>
<path d="M191.2 1050 L222.5 1070 L242.5 1052 L248 1050.5 L270 1066.2" stroke-width="1.92" fill="none"/>
<path d="M235 1080 L250 1072.5 L270 1068" stroke-width="1.92" fill="none"/>
<path d="M251.2 1060 L251.2 1072.5" stroke-width="1.79" fill="none"/>
<path d="M178.8 1010 L187.5 1007.5 L201.2 1007.5" stroke-width="1.79" fill="none"/>
<path d="M187.5 1007.5 L191.2 1025 L185 1040 L178.8 1040" stroke-width="1.79" fill="none"/>
<path d="M178.8 1022.5 L190 1017.5 L210 1017.5" stroke-width="1.66" fill="none"/>
<circle cx="182.0" cy="1002.0" r="1.6" stroke-width="1.54" fill="none"/>
<path d="M190 1026.2 L255 1013.8 L270 1012.5 L282.5 1026.2 L200 1047.5 L190 1040 Z" stroke-width="2.05" fill="none"/>
<path d="M275 1008.8 L315 986.2 L322.5 986.2 L345 1003.8 L295 1017.5 Z" stroke-width="2.05" fill="none"/>
<path d="M326.2 980 L375 962.5 L410 980 L350 1002.5 Z" stroke-width="2.05" fill="none"/>
<path d="M362.5 1006.2 L410 987.5 L460 1010 L465 1015.5 L387.5 1022 Z" stroke-width="2.05" fill="none"/>
<path d="M303.8 1023 L350 1011.8 L387.5 1033 L340 1043 Z" stroke-width="2.05" fill="none"/>
<path d="M415 1028 L467.5 1020.5 L480.5 1028 L441.2 1048 L425 1040 Z" stroke-width="2.05" fill="none"/>
<path d="M212.5 1052.5 L285 1036.2 L300 1040 L330 1056.2 L235 1060 Z" stroke-width="2.05" fill="none"/>
<path d="M192.5 1046.2 L282.5 1030 L335 1050" stroke-width="1.79" fill="none"/>
<path d="M270 1012.5 L350 1011.8" stroke-width="1.66" fill="none"/>
<path d="M235 1005 L315 975" stroke-width="1.66" fill="none"/>
<path d="M242.5 1010 L320 982.5" stroke-width="1.66" fill="none"/>
<path d="M410 980 L442.5 988.8" stroke-width="1.66" fill="none"/>
<path d="M392.5 958.8 L410 970 L442.5 995 L492.5 1022.5" stroke-width="1.79" fill="none"/>
<path d="M387.5 1033 L452.5 1040" stroke-width="1.66" fill="none"/>
<path d="M345 1058.8 L335 1050" stroke-width="1.66" fill="none"/>
<path d="M210 1030 L225 1040" stroke-width="2.56" fill="none"/>
<path d="M213 1028 L222 1034" stroke-width="1.54" fill="none"/>
<path d="M230 1025 L243.8 1034.5" stroke-width="2.56" fill="none"/>
<path d="M233 1023 L241.2 1028.7" stroke-width="1.54" fill="none"/>
<path d="M247.5 1020 L260 1029" stroke-width="2.56" fill="none"/>
<path d="M250.5 1018 L258 1023.4" stroke-width="1.54" fill="none"/>
<path d="M262.5 1017.5 L273.8 1026" stroke-width="2.56" fill="none"/>
<path d="M265.5 1015.5 L272.2 1020.6" stroke-width="1.54" fill="none"/>
<path d="M300 1000 L313.8 1009.5" stroke-width="2.56" fill="none"/>
<path d="M303 998 L311.2 1003.7" stroke-width="1.54" fill="none"/>
<path d="M315 995 L327.5 1003.5" stroke-width="2.56" fill="none"/>
<path d="M318 993 L325.5 998.1" stroke-width="1.54" fill="none"/>
<path d="M330 992.5 L341.2 1000.5" stroke-width="2.56" fill="none"/>
<path d="M333 990.5 L339.8 995.3" stroke-width="1.54" fill="none"/>
<path d="M340 975 L353.8 984" stroke-width="2.56" fill="none"/>
<path d="M343 973 L351.2 978.4" stroke-width="1.54" fill="none"/>
<path d="M360 970 L373.8 979" stroke-width="2.56" fill="none"/>
<path d="M363 968 L371.2 973.4" stroke-width="1.54" fill="none"/>
<path d="M380 967.5 L392.5 976" stroke-width="2.56" fill="none"/>
<path d="M383 965.5 L390.5 970.6" stroke-width="1.54" fill="none"/>
<path d="M380 1002.5 L395 1012.5" stroke-width="2.56" fill="none"/>
<path d="M383 1000.5 L392 1006.5" stroke-width="1.54" fill="none"/>
<path d="M400 998.8 L415 1008.8" stroke-width="2.56" fill="none"/>
<path d="M403 996.8 L412 1002.8" stroke-width="1.54" fill="none"/>
<path d="M420 997.5 L433.8 1006.5" stroke-width="2.56" fill="none"/>
<path d="M423 995.5 L431.2 1000.9" stroke-width="1.54" fill="none"/>
<path d="M440 1005 L452.5 1013" stroke-width="2.56" fill="none"/>
<path d="M443 1003 L450.5 1007.8" stroke-width="1.54" fill="none"/>
<path d="M322.5 1020 L336.2 1029" stroke-width="2.56" fill="none"/>
<path d="M325.5 1018 L333.8 1023.4" stroke-width="1.54" fill="none"/>
<path d="M342.5 1017.5 L356.2 1026.5" stroke-width="2.56" fill="none"/>
<path d="M345.5 1015.5 L353.8 1020.9" stroke-width="1.54" fill="none"/>
<path d="M360 1020 L372.5 1028.5" stroke-width="2.56" fill="none"/>
<path d="M363 1018 L370.5 1023.1" stroke-width="1.54" fill="none"/>
<path d="M425 1030 L437.5 1038" stroke-width="2.56" fill="none"/>
<path d="M428 1028 L435.5 1032.8" stroke-width="1.54" fill="none"/>
<path d="M442.5 1027.5 L455 1035.5" stroke-width="2.56" fill="none"/>
<path d="M445.5 1025.5 L453 1030.3" stroke-width="1.54" fill="none"/>
<path d="M457.5 1025 L468.8 1032.5" stroke-width="2.56" fill="none"/>
<path d="M460.5 1023 L467.2 1027.5" stroke-width="1.54" fill="none"/>
<path d="M225 1055 L235 1061.5" stroke-width="2.56" fill="none"/>
<path d="M228 1053 L234 1056.9" stroke-width="1.54" fill="none"/>
<path d="M265 1045 L276.2 1052" stroke-width="2.56" fill="none"/>
<path d="M268 1043 L274.8 1047.2" stroke-width="1.54" fill="none"/>
<path d="M285 1042.5 L296.2 1049.5" stroke-width="2.56" fill="none"/>
<path d="M288 1040.5 L294.8 1044.7" stroke-width="1.54" fill="none"/>
<path d="M305 1043.8 L315 1050.2" stroke-width="2.56" fill="none"/>
<path d="M308 1041.8 L314 1045.7" stroke-width="1.54" fill="none"/>
<path d="M395 1035 L406.2 1042.5" stroke-width="2.56" fill="none"/>
<path d="M398 1033 L404.8 1037.5" stroke-width="1.54" fill="none"/>
<path d="M410 1036.2 L421.2 1043.8" stroke-width="2.56" fill="none"/>
<path d="M413 1034.2 L419.8 1038.8" stroke-width="1.54" fill="none"/>
<path d="M472.5 1025 L482.5 1031.5" stroke-width="2.56" fill="none"/>
<path d="M475.5 1023 L481.5 1026.9" stroke-width="1.54" fill="none"/>
<ellipse cx="246.2" cy="1000.0" rx="2.4" ry="1.5" transform="rotate(0 246.2 1000.0)" stroke-width="1.54" fill="none"/>
<ellipse cx="342.0" cy="1052.5" rx="2.4" ry="1.5" transform="rotate(0 342.0 1052.5)" stroke-width="1.54" fill="none"/>
<ellipse cx="447.5" cy="993.0" rx="2.4" ry="1.5" transform="rotate(0 447.5 993.0)" stroke-width="1.54" fill="none"/>
<ellipse cx="391.2" cy="960.0" rx="2.4" ry="1.5" transform="rotate(0 391.2 960.0)" stroke-width="1.54" fill="none"/>
<ellipse cx="508.8" cy="1031.2" rx="2.4" ry="1.5" transform="rotate(0 508.8 1031.2)" stroke-width="1.54" fill="none"/>
<path d="M452.5 1045 L452.5 1076.2" stroke-width="2.18" fill="none"/>
<circle cx="343.8" cy="1105" r="11" stroke-width="2.05" fill="#fff"/>
<text x="343.8" y="1111.3" font-size="17.5" text-anchor="middle" stroke-width="0.9">B</text>
<path d="M298.8 1106 L332 1106" stroke-width="2.18" fill="none"/>
<path d="M343.8 1060 L343.8 1093" stroke-width="2.18" fill="none" stroke-dasharray="8 4"/>
<path d="M420 940 C420.4 939.5 423.6 938.0 427.5 937.5 C431.4 937.0 480.1 931.8 485 931.2 C489.9 930.6 508.2 927.9 510 927.5 C511.8 927.1 514.1 925.1 515 925 C515.9 924.9 524.0 926.2 525 926.2 C526.0 926.2 531.8 925.5 532.5 925 C533.2 924.5 536.3 918.1 537.5 917.5 C538.7 916.9 551.1 914.9 552.5 915 C553.9 915.1 557.5 918.9 560 918.8 C562.5 918.6 592.7 913.4 595 912.5 C597.3 911.6 598.3 904.6 598.8 903.8 C599.2 903.0 601.1 899.5 602.5 898.8 C603.9 898.1 621.0 893.5 622.5 892.5 C624.0 891.5 625.2 883.4 627.5 882.5 C629.8 881.6 657.8 878.1 660 877.5 C662.2 876.9 663.9 872.9 665 872.5 C666.1 872.1 677.8 870.9 678.8 871.2 C679.8 871.5 682.2 876.1 682.5 877.5 C682.8 878.9 683.5 893.6 683.8 895 C684.1 896.4 684.4 898.2 687.5 900 C690.6 901.8 731.7 924.0 735 925 C738.3 926.0 741.1 918.0 742.5 917.5 C743.9 917.0 756.3 915.8 757.5 916.2 C758.7 916.6 762.4 923.0 762.5 923.8 C762.6 924.6 759.8 929.4 758.8 930 C757.8 930.6 747.2 933.3 745 933.8 C742.8 934.3 724.5 938.0 722.5 938.8 C720.5 939.6 713.7 946.7 712.5 947.5 C711.3 948.3 703.2 951.8 702.5 952.5 C701.8 953.2 700.8 958.3 700 958.8 C699.2 959.2 691.0 960.2 690 960 C689.0 959.8 686.6 955.6 683.8 956.2 C680.9 956.8 645.1 968.7 642.5 970 C639.9 971.3 640.8 976.9 640 977.5 C639.2 978.1 630.9 980.0 630 980 C629.1 980.0 627.1 976.9 625 977.5 C622.9 978.1 598.0 989.0 595 990 C592.0 991.0 576.5 994.2 575 995 C573.5 995.8 570.3 1001.0 570 1002.5 C569.7 1004.0 570.5 1018.8 570 1020 C569.5 1021.2 563.9 1022.4 562.5 1022.5 C561.1 1022.6 547.6 1021.7 546.2 1021.2 C544.9 1020.8 541.1 1016.1 540 1015 C538.9 1013.9 530.8 1004.6 527.5 1002.5 C524.2 1000.4 488.1 982.1 485 980 C481.9 977.9 476.5 968.7 475 967.5 C473.5 966.3 461.5 960.8 460 960 C458.5 959.2 451.8 955.6 450 955 C448.2 954.4 431.7 950.5 430 950 C428.3 949.5 421.8 946.8 421.2 946.2 C420.6 945.6 419.6 940.5 420 940 Z" stroke-width="2.56" fill="none"/>
<path d="M516.6 964.9 L671.5 923.8 L679 922 L682.7 924.8 L681.8 928.9 L675.2 931.9 L529.7 971.8" stroke-width="2.18" fill="none"/>
<path d="M484 946.2 L529.7 936 L606.2 919.6 L617.4 902.4 L643.5 895.3 L658.4 894.2 L665.9 898.7" stroke-width="2.05" fill="none"/>
<path d="M488.7 944.9 L516.6 964.9" stroke-width="1.92" fill="none"/>
<path d="M507.3 941.6 L526 958" stroke-width="2.05" fill="none"/>
<path d="M512.9 950.9 L520.7 955" stroke-width="3.07" fill="none"/>
<path d="M526 938.2 L544.6 953.7" stroke-width="2.05" fill="none"/>
<path d="M531.6 947.5 L539.4 951.6" stroke-width="3.07" fill="none"/>
<path d="M544.6 934.5 L563.3 949.4" stroke-width="2.05" fill="none"/>
<path d="M550.2 943.8 L558.1 947.9" stroke-width="3.07" fill="none"/>
<path d="M563.3 930.7 L581.9 944.9" stroke-width="2.05" fill="none"/>
<path d="M568.9 940.1 L576.7 944.2" stroke-width="3.07" fill="none"/>
<path d="M581.9 927 L600.6 940.1" stroke-width="2.05" fill="none"/>
<path d="M587.5 936.3 L595.4 940.4" stroke-width="3.07" fill="none"/>
<path d="M600.6 923.3 L619.3 935.6" stroke-width="2.05" fill="none"/>
<path d="M606.2 932.6 L614 936.7" stroke-width="3.07" fill="none"/>
<path d="M611.8 914.5 L637.9 930.7" stroke-width="2.05" fill="none"/>
<path d="M617.4 923.8 L625.2 927.9" stroke-width="3.07" fill="none"/>
<path d="M624.9 903.3 L651 927" stroke-width="2.05" fill="none"/>
<path d="M630.4 912.6 L638.3 916.8" stroke-width="3.07" fill="none"/>
<path d="M639.8 898.7 L665.9 921.4" stroke-width="2.05" fill="none"/>
<path d="M645.4 908 L653.2 912.1" stroke-width="3.07" fill="none"/>
<path d="M660.3 895.9 L731.2 928.9" stroke-width="1.92" fill="none"/>
<path d="M679 899.6 L738.7 924.8" stroke-width="1.92" fill="none"/>
<path d="M667.8 904.3 L718.1 928.9" stroke-width="1.66" fill="none"/>
<path d="M634.2 908 L664 904.3 L667.8 909.9" stroke-width="1.66" fill="none"/>
<path d="M529.7 971.8 L557.7 986.7 L589.4 982.2 L673.4 956.1 L686.4 951.8" stroke-width="2.05" fill="none"/>
<path d="M548.4 967.7 L563.3 982.2" stroke-width="2.05" fill="none"/>
<path d="M553 974.8 L559.9 977.9" stroke-width="3.07" fill="none"/>
<path d="M567 963 L585.7 977.4" stroke-width="2.05" fill="none"/>
<path d="M571.7 970.1 L578.6 973.3" stroke-width="3.07" fill="none"/>
<path d="M585.7 958 L604.3 972.9" stroke-width="2.05" fill="none"/>
<path d="M590.3 965.1 L597.2 968.2" stroke-width="3.07" fill="none"/>
<path d="M604.3 953.1 L619.3 964" stroke-width="2.05" fill="none"/>
<path d="M609 960.2 L615.9 963.4" stroke-width="3.07" fill="none"/>
<path d="M619.3 949.4 L634.2 959.9" stroke-width="2.05" fill="none"/>
<path d="M623.9 956.5 L630.8 959.7" stroke-width="3.07" fill="none"/>
<path d="M634.2 944.9 L649.1 955" stroke-width="2.05" fill="none"/>
<path d="M638.8 952 L645.7 955.2" stroke-width="3.07" fill="none"/>
<path d="M652.8 940.1 L675.2 952.8" stroke-width="2.05" fill="none"/>
<path d="M657.5 947.2 L664.4 950.3" stroke-width="3.07" fill="none"/>
<path d="M671.5 934.5 L690.1 945.7" stroke-width="2.05" fill="none"/>
<path d="M676.2 941.6 L683.1 944.7" stroke-width="3.07" fill="none"/>
<path d="M675.2 927.6 L684.6 935" stroke-width="2.56" fill="none"/>
<path d="M684.6 926.6 L693.9 934.1" stroke-width="2.56" fill="none"/>
<path d="M693.9 925.7 L703.2 933.2" stroke-width="2.56" fill="none"/>
<path d="M703.2 926.6 L712.5 934.1" stroke-width="2.56" fill="none"/>
<path d="M490.5 962.1 L494.3 955 L501.7 953.1 L505.8 956.9 L516.6 964.9" stroke-width="2.18" fill="none"/>
<path d="M490.5 962.1 L492.4 969.9 L526 996 L552.1 988.2 L557.7 986.7" stroke-width="2.05" fill="none"/>
<path d="M470 954.6 L492.4 969.9" stroke-width="1.92" fill="none"/>
<path d="M481.2 984.5 L524.1 1011.5" stroke-width="1.92" fill="none"/>
<path d="M494.3 977 L518.5 991.9" stroke-width="1.79" fill="none"/>
<path d="M503.6 971.4 L514.8 978.9" stroke-width="1.79" fill="none"/>
<path d="M526 996 L540.9 1010.6 L544.6 1018.4" stroke-width="1.92" fill="none"/>
<path d="M552.1 988.2 L554.3 999.4 L560.5 1011.5" stroke-width="1.92" fill="none"/>
<path d="M533.4 993.8 L548.4 990.1" stroke-width="2.82" fill="none"/>
<path d="M537.2 997.5 L546.5 995.3" stroke-width="2.05" fill="none"/>
<path d="M607 968 Q604 972 608 975" stroke-width="2.05" fill="none"/>
<ellipse cx="518.8" cy="930.5" rx="9" ry="5.5" transform="rotate(0 518.8 930.5)" stroke-width="2.56" fill="#fff"/>
<ellipse cx="519.0" cy="929.5" rx="4" ry="2" transform="rotate(0 519.0 929.5)" stroke-width="1.66" fill="none"/>
<ellipse cx="630.5" cy="973.0" rx="9.5" ry="6.5" transform="rotate(0 630.5 973.0)" stroke-width="2.56" fill="#fff"/>
<ellipse cx="631.0" cy="971.8" rx="4" ry="2.2" transform="rotate(0 631.0 971.8)" stroke-width="1.66" fill="none"/>
<ellipse cx="672.5" cy="874.5" rx="4" ry="2.2" transform="rotate(0 672.5 874.5)" stroke-width="1.66" fill="none"/>
<ellipse cx="750.5" cy="919.5" rx="4.5" ry="2.5" transform="rotate(0 750.5 919.5)" stroke-width="1.66" fill="none"/>
<ellipse cx="432.0" cy="946.2" rx="2.6" ry="1.6" transform="rotate(0 432.0 946.2)" stroke-width="1.54" fill="none"/>
<ellipse cx="482.5" cy="965.5" rx="2.6" ry="1.6" transform="rotate(0 482.5 965.5)" stroke-width="1.54" fill="none"/>
<ellipse cx="485.0" cy="980.0" rx="2.6" ry="1.6" transform="rotate(0 485.0 980.0)" stroke-width="1.54" fill="none"/>
<ellipse cx="606.2" cy="902.5" rx="2.6" ry="1.6" transform="rotate(0 606.2 902.5)" stroke-width="1.54" fill="none"/>
<ellipse cx="692.5" cy="955.0" rx="2.6" ry="1.6" transform="rotate(0 692.5 955.0)" stroke-width="1.54" fill="none"/>
<ellipse cx="552.5" cy="1019.5" rx="2.6" ry="1.6" transform="rotate(0 552.5 1019.5)" stroke-width="1.54" fill="none"/>
<ellipse cx="542.5" cy="920.0" rx="2.6" ry="1.6" transform="rotate(0 542.5 920.0)" stroke-width="1.54" fill="none"/>
<path d="M561.2 1023.8 L561.2 1050" stroke-width="2.18" fill="none"/>
<circle cx="692.5" cy="1010" r="11" stroke-width="2.05" fill="#fff"/>
<text x="692.5" y="1016.3" font-size="17.5" text-anchor="middle" stroke-width="0.9">B</text>
<path d="M692.5 1022.5 L692.5 1042.5" stroke-width="2.18" fill="none"/>
<path d="M692.5 961 L692.5 996" stroke-width="2.30" fill="none" stroke-dasharray="9 5"/>
<text x="230" y="102.8" font-size="19" text-anchor="start" stroke-width="0.95">77276</text>
<text x="366" y="217.8" font-size="19" text-anchor="start" stroke-width="0.95" textLength="68.5" lengthAdjust="spacingAndGlyphs">77022A</text>
<text x="328" y="328.8" font-size="19" text-anchor="start" stroke-width="0.95">77100</text>
<text x="570" y="250.8" font-size="19" text-anchor="start" stroke-width="0.95" textLength="68.5" lengthAdjust="spacingAndGlyphs">77022A</text>
<text x="645" y="315.8" font-size="19" text-anchor="start" stroke-width="0.95" textLength="68.5" lengthAdjust="spacingAndGlyphs">77022A</text>
<text x="799" y="232.8" font-size="19" text-anchor="start" stroke-width="0.95" textLength="68.5" lengthAdjust="spacingAndGlyphs">77022A</text>
<text x="916" y="207.8" font-size="19" text-anchor="start" stroke-width="0.95">77022</text>
<text x="1186" y="85.8" font-size="19" text-anchor="start" stroke-width="0.95">77035</text>
<text x="1373" y="164.8" font-size="19" text-anchor="start" stroke-width="0.95">77377</text>
<text x="1365" y="214.8" font-size="19" text-anchor="start" stroke-width="0.95">77366</text>
<text x="1142" y="292.8" font-size="19" text-anchor="start" stroke-width="0.95">77295</text>
<text x="1122" y="331.8" font-size="19" text-anchor="start" stroke-width="0.95">77387</text>
<text x="1273" y="384.8" font-size="19" text-anchor="start" stroke-width="0.95">77031B</text>
<text x="1298" y="415.8" font-size="19" text-anchor="start" stroke-width="0.95">77031</text>
<text x="1217" y="427.8" font-size="19" text-anchor="start" stroke-width="0.95">77290</text>
<text x="1478" y="332.8" font-size="19" text-anchor="start" stroke-width="0.95" textLength="68.5" lengthAdjust="spacingAndGlyphs">77308A</text>
<text x="1416" y="355.8" font-size="19" text-anchor="start" stroke-width="0.95">77308</text>
<text x="808" y="387.8" font-size="19" text-anchor="start" stroke-width="0.95" textLength="68.5" lengthAdjust="spacingAndGlyphs">77100D</text>
<text x="648" y="382.8" font-size="19" text-anchor="start" stroke-width="0.95">77011</text>
<text x="623" y="413.8" font-size="19" text-anchor="start" stroke-width="0.95">77178</text>
<text x="768" y="461.8" font-size="19" text-anchor="start" stroke-width="0.95">77213B</text>
<text x="980" y="509.8" font-size="19" text-anchor="start" stroke-width="0.95">77201</text>
<text x="1143" y="504.8" font-size="19" text-anchor="start" stroke-width="0.95">77034</text>
<text x="1158" y="548.8" font-size="19" text-anchor="start" stroke-width="0.95" textLength="68.5" lengthAdjust="spacingAndGlyphs">77034A</text>
<text x="1403" y="543.8" font-size="19" text-anchor="start" stroke-width="0.95" textLength="68.5" lengthAdjust="spacingAndGlyphs">77277R</text>
<text x="1056" y="838.8" font-size="19" text-anchor="start" stroke-width="0.95" textLength="68.5" lengthAdjust="spacingAndGlyphs">77278C</text>
<text x="183" y="410.8" font-size="19" text-anchor="start" stroke-width="0.95">77654</text>
<text x="289" y="387.8" font-size="19" text-anchor="start" stroke-width="0.95" textLength="68.5" lengthAdjust="spacingAndGlyphs">77656A</text>
<text x="398" y="366.8" font-size="19" text-anchor="start" stroke-width="0.95">77655</text>
<text x="487" y="367.8" font-size="19" text-anchor="start" stroke-width="0.95">77655</text>
<text x="319" y="628.8" font-size="19" text-anchor="start" stroke-width="0.95">77100B</text>
<text x="318" y="661.8" font-size="19" text-anchor="start" stroke-width="0.95" textLength="68.5" lengthAdjust="spacingAndGlyphs">77100A</text>
<text x="139" y="679.8" font-size="19" text-anchor="start" stroke-width="0.95">77652</text>
<text x="430" y="696.8" font-size="19" text-anchor="start" stroke-width="0.95">77652</text>
<text x="498" y="663.8" font-size="19" text-anchor="start" stroke-width="0.95" textLength="68.5" lengthAdjust="spacingAndGlyphs">77657A</text>
<text x="207" y="725.8" font-size="19" text-anchor="start" stroke-width="0.95">77601B</text>
<text x="259" y="758.8" font-size="19" text-anchor="start" stroke-width="0.95" textLength="68.5" lengthAdjust="spacingAndGlyphs">77611A</text>
<text x="599" y="725.8" font-size="19" text-anchor="start" stroke-width="0.95" textLength="68.5" lengthAdjust="spacingAndGlyphs">77611A</text>
<text x="589" y="809.8" font-size="19" text-anchor="start" stroke-width="0.95">77603B</text>
<text x="583" y="843.8" font-size="19" text-anchor="start" stroke-width="0.95">77604B</text>
<text x="695" y="858.8" font-size="19" text-anchor="start" stroke-width="0.95" textLength="68.5" lengthAdjust="spacingAndGlyphs">77611A</text>
<text x="262" y="866.8" font-size="19" text-anchor="start" stroke-width="0.95">77602B</text>
<text x="338" y="935.8" font-size="19" text-anchor="start" stroke-width="0.95" textLength="68.5" lengthAdjust="spacingAndGlyphs">77611A</text>
<text x="535" y="1065.8" font-size="19" text-anchor="start" stroke-width="0.95" textLength="68.5" lengthAdjust="spacingAndGlyphs">77642A</text>
<text x="425" y="1091.8" font-size="19" text-anchor="start" stroke-width="0.95" textLength="68.5" lengthAdjust="spacingAndGlyphs">77641A</text>
<text x="172" y="171.8" font-size="16" text-anchor="start" stroke-width="0.95" textLength="97" lengthAdjust="spacingAndGlyphs">90159-60008</text>
<text x="105" y="269.8" font-size="16" text-anchor="start" stroke-width="0.95" textLength="97" lengthAdjust="spacingAndGlyphs">90189-06005</text>
<text x="354" y="182.8" font-size="16" text-anchor="start" stroke-width="0.95" textLength="97" lengthAdjust="spacingAndGlyphs">96132-30600</text>
<text x="431" y="196.3" font-size="16" text-anchor="start" stroke-width="0.95">(2)</text>
<text x="369" y="288.8" font-size="16" text-anchor="start" stroke-width="0.95" textLength="97" lengthAdjust="spacingAndGlyphs">90179-06115</text>
<text x="472.5" y="288.8" font-size="16" text-anchor="start" stroke-width="0.95">(2)</text>
<text x="591" y="180.8" font-size="16" text-anchor="start" stroke-width="0.95" textLength="97" lengthAdjust="spacingAndGlyphs">96132-30400</text>
<text x="668" y="196.8" font-size="16" text-anchor="start" stroke-width="0.95">(2)</text>
<text x="517" y="211.8" font-size="16" text-anchor="start" stroke-width="0.95" textLength="97" lengthAdjust="spacingAndGlyphs">96132-30400</text>
<text x="594" y="227.8" font-size="16" text-anchor="start" stroke-width="0.95">(2)</text>
<text x="773" y="277.8" font-size="16" text-anchor="start" stroke-width="0.95" textLength="97" lengthAdjust="spacingAndGlyphs">96132-30600</text>
<text x="876.5" y="277.8" font-size="16" text-anchor="start" stroke-width="0.95">(2)</text>
<text x="935" y="101.8" font-size="16" text-anchor="start" stroke-width="0.95" textLength="97" lengthAdjust="spacingAndGlyphs">91651-40614</text>
<text x="1038.5" y="101.8" font-size="16" text-anchor="start" stroke-width="0.95">(2)</text>
<text x="1299" y="140.8" font-size="16" text-anchor="start" stroke-width="0.95" textLength="97" lengthAdjust="spacingAndGlyphs">90179-05020</text>
<text x="1213" y="258.8" font-size="16" text-anchor="start" stroke-width="0.95" textLength="97" lengthAdjust="spacingAndGlyphs">90159-50047</text>
<text x="1316.5" y="258.8" font-size="16" text-anchor="start" stroke-width="0.95">(4)</text>
<text x="1372" y="429.8" font-size="16" text-anchor="start" stroke-width="0.95" textLength="97" lengthAdjust="spacingAndGlyphs">93385-15014</text>
<text x="1475.5" y="429.8" font-size="16" text-anchor="start" stroke-width="0.95">(2)</text>
<text x="673" y="354.8" font-size="16" text-anchor="start" stroke-width="0.95" textLength="97" lengthAdjust="spacingAndGlyphs">90460-22002</text>
<text x="939" y="369.8" font-size="16" text-anchor="start" stroke-width="0.95" textLength="97" lengthAdjust="spacingAndGlyphs">90460-22002</text>
<text x="684" y="482.8" font-size="16" text-anchor="start" stroke-width="0.95" textLength="97" lengthAdjust="spacingAndGlyphs">90460-55003</text>
<text x="796" y="508.8" font-size="16" text-anchor="start" stroke-width="0.95" textLength="97" lengthAdjust="spacingAndGlyphs">90460-55003</text>
<text x="683" y="573.8" font-size="16" text-anchor="start" stroke-width="0.95" textLength="97" lengthAdjust="spacingAndGlyphs">93381-15010</text>
<text x="786.5" y="573.8" font-size="16" text-anchor="start" stroke-width="0.95">(6)</text>
<text x="909" y="553.8" font-size="16" text-anchor="start" stroke-width="0.95" textLength="97" lengthAdjust="spacingAndGlyphs">91656-40616</text>
<text x="986" y="570.8" font-size="16" text-anchor="start" stroke-width="0.95">(4)</text>
<text x="979" y="591.8" font-size="16" text-anchor="start" stroke-width="0.95" textLength="97" lengthAdjust="spacingAndGlyphs">91656-40616</text>
<text x="1197" y="463.8" font-size="16" text-anchor="start" stroke-width="0.95" textLength="97" lengthAdjust="spacingAndGlyphs">90179-06009</text>
<text x="1300.5" y="463.8" font-size="16" text-anchor="start" stroke-width="0.95">(3)</text>
<text x="1207" y="577.8" font-size="16" text-anchor="start" stroke-width="0.95" textLength="97" lengthAdjust="spacingAndGlyphs">90189-06005</text>
<text x="1310.5" y="577.8" font-size="16" text-anchor="start" stroke-width="0.95">(3)</text>
<text x="1202" y="639.8" font-size="16" text-anchor="start" stroke-width="0.95" textLength="97" lengthAdjust="spacingAndGlyphs">90159-60008</text>
<text x="1305.5" y="639.8" font-size="16" text-anchor="start" stroke-width="0.95">(3)</text>
<text x="1202" y="759.8" font-size="16" text-anchor="start" stroke-width="0.95" textLength="97" lengthAdjust="spacingAndGlyphs">90159-60318</text>
<text x="1305.5" y="759.8" font-size="16" text-anchor="start" stroke-width="0.95">(2)</text>
<text x="1075" y="799.8" font-size="16" text-anchor="start" stroke-width="0.95" textLength="97" lengthAdjust="spacingAndGlyphs">90179-06104</text>
<text x="1178.5" y="799.8" font-size="16" text-anchor="start" stroke-width="0.95">(2)</text>
<text x="134" y="755.8" font-size="16" text-anchor="start" stroke-width="0.95" textLength="97" lengthAdjust="spacingAndGlyphs">90468-14004</text>
<text x="616" y="777.8" font-size="16" text-anchor="start" stroke-width="0.95" textLength="97" lengthAdjust="spacingAndGlyphs">90468-14004</text>
<text x="310" y="828.8" font-size="16" text-anchor="start" stroke-width="0.95" textLength="97" lengthAdjust="spacingAndGlyphs">91615-60820</text>
<text x="413.5" y="828.8" font-size="16" text-anchor="start" stroke-width="0.95">(2)</text>
<text x="384" y="860.8" font-size="16" text-anchor="start" stroke-width="0.95" textLength="97" lengthAdjust="spacingAndGlyphs">94180-40800</text>
<text x="445" y="882.8" font-size="16" text-anchor="start" stroke-width="0.95" textLength="97" lengthAdjust="spacingAndGlyphs">90468-14004</text>
<text x="87" y="907.8" font-size="16" text-anchor="start" stroke-width="0.95" textLength="97" lengthAdjust="spacingAndGlyphs">94180-40800</text>
<text x="202" y="960.8" font-size="16" text-anchor="start" stroke-width="0.95" textLength="97" lengthAdjust="spacingAndGlyphs">90468-14004</text>
<text x="643" y="1057.8" font-size="16" text-anchor="start" stroke-width="0.95" textLength="97" lengthAdjust="spacingAndGlyphs">91661-40612</text>
<text x="746.5" y="1057.8" font-size="16" text-anchor="start" stroke-width="0.95">(2)</text>
<text x="176" y="1110.8" font-size="16" text-anchor="start" stroke-width="0.95" textLength="93.5" lengthAdjust="spacingAndGlyphs">91661-40612</text>
<text x="276.5" y="1110.8" font-size="16" text-anchor="start" stroke-width="0.95">(7)</text>
<text x="1168" y="199.5" font-size="18" text-anchor="start" stroke-width="0.95" textLength="68" lengthAdjust="spacingAndGlyphs">Refer to</text>
<text x="1167" y="220.0" font-size="19.5" text-anchor="start" stroke-width="0.95" textLength="93" lengthAdjust="spacingAndGlyphs">FIG. 61-05</text>
<text x="1167" y="232.7" font-size="13" text-anchor="start" stroke-width="0.95" textLength="81" lengthAdjust="spacingAndGlyphs">(PNC 64645)</text>
<text x="1438" y="1129.0" font-size="14" text-anchor="start" stroke-width="0.2">MB&#160;&#160;K728-A</text>
</svg>
</body></html>
